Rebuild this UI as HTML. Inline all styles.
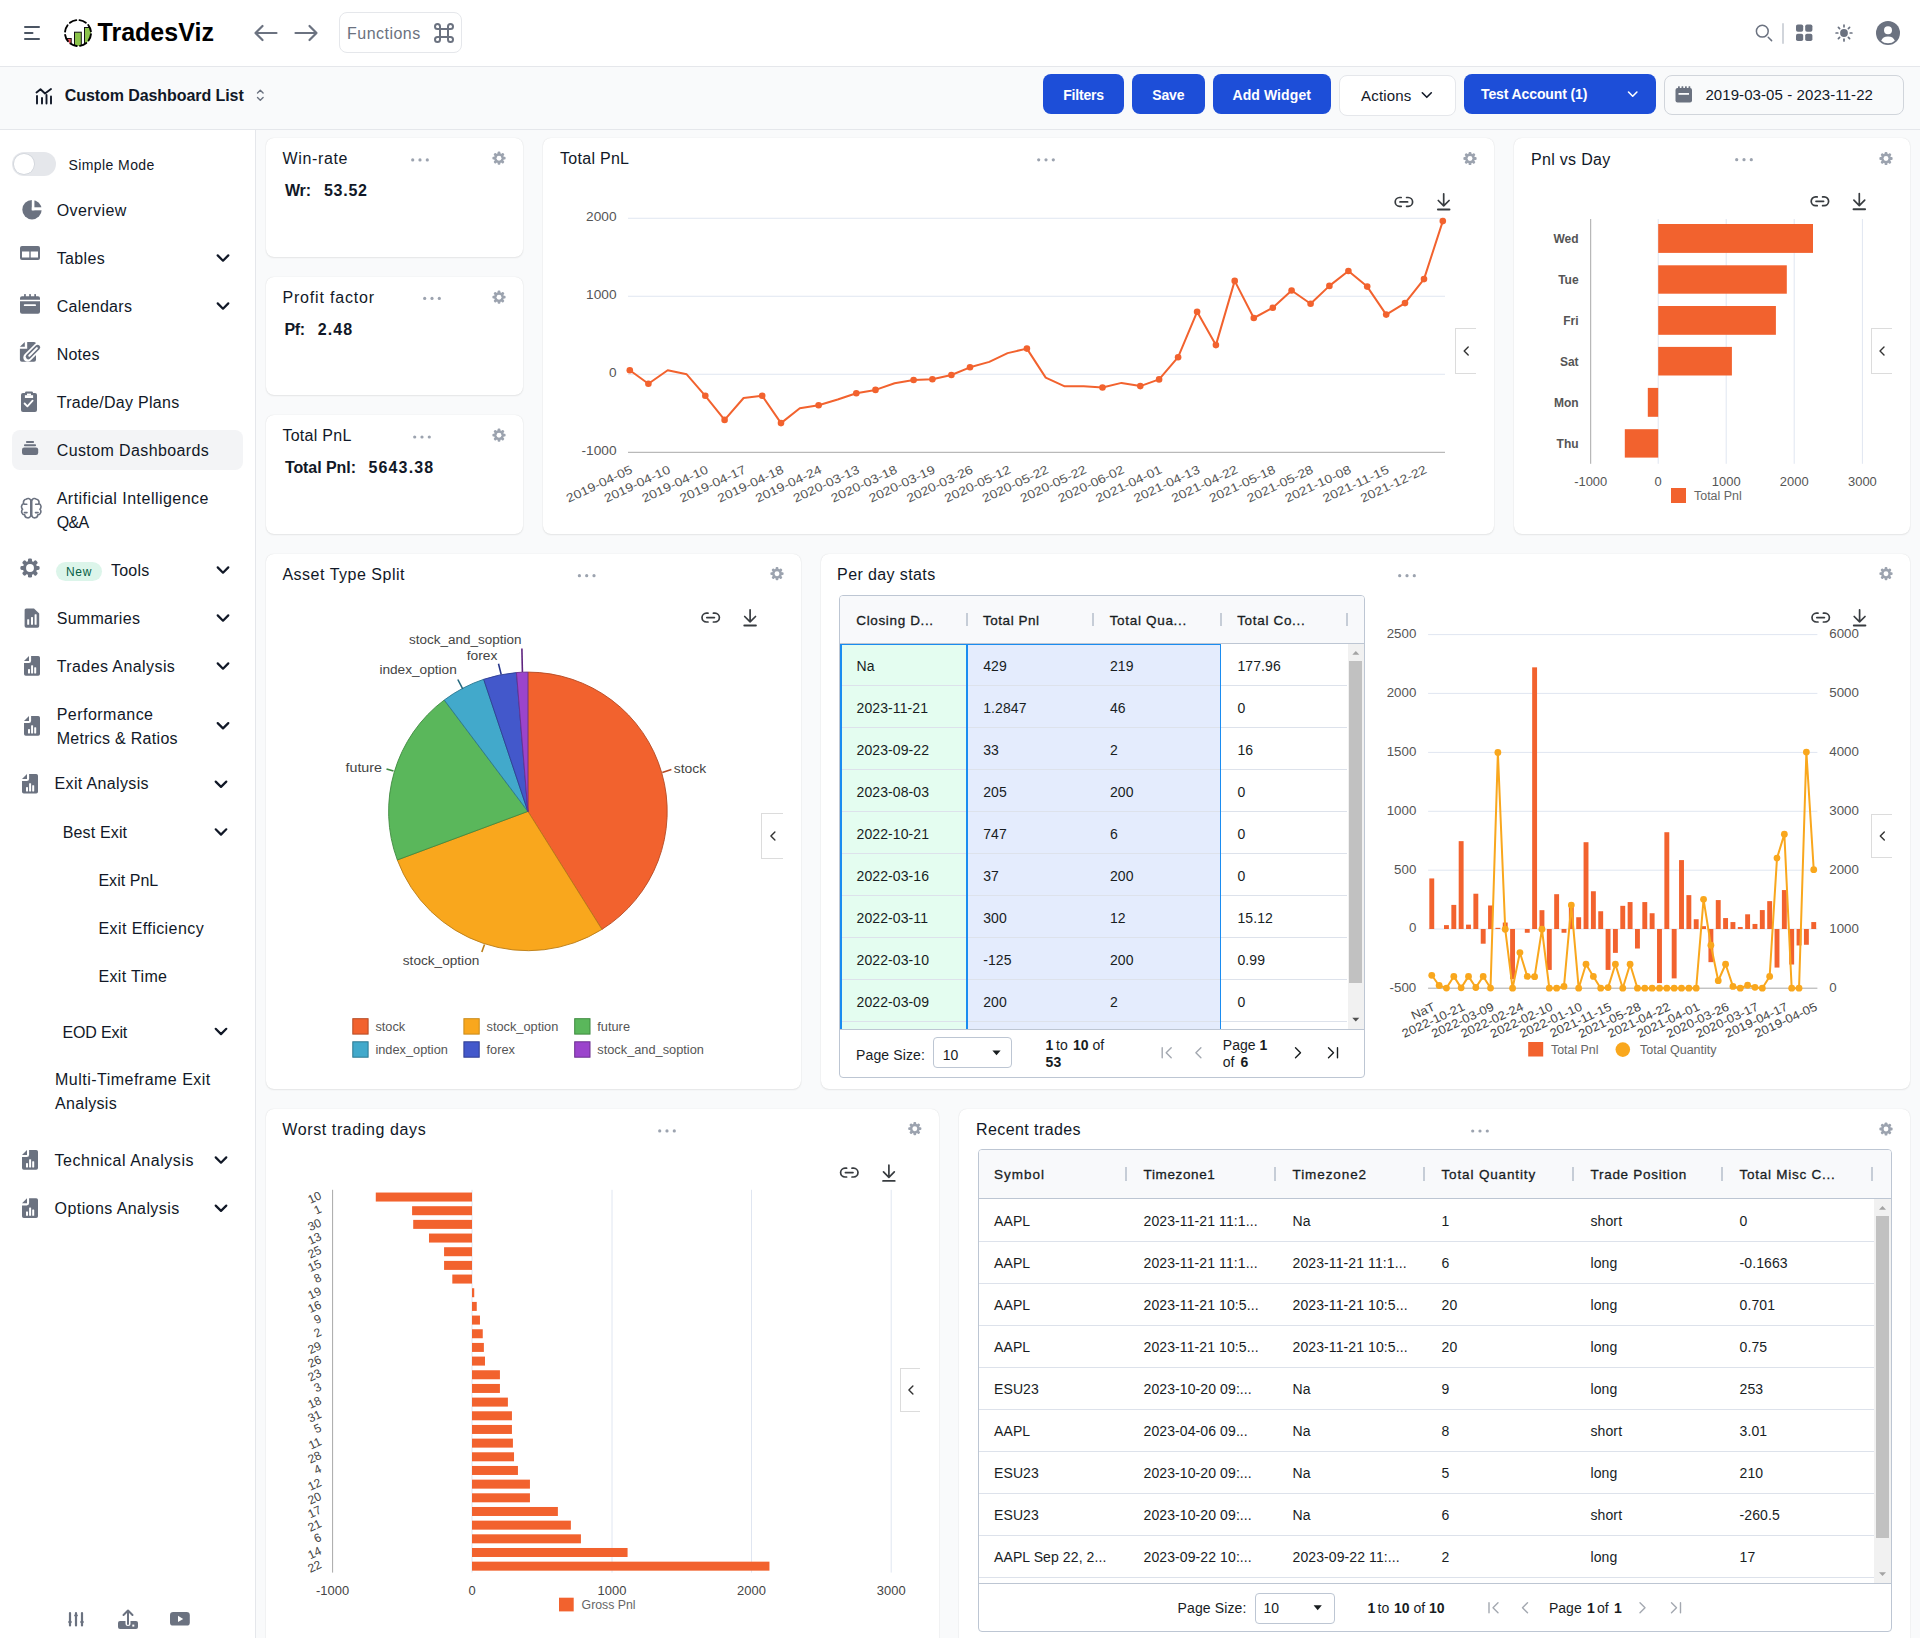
<!DOCTYPE html>
<html><head><meta charset="utf-8"><title>TradesViz - Custom Dashboard</title>
<style>
html,body{margin:0;padding:0;}
body{width:1920px;height:1638px;overflow:hidden;position:relative;background:#f9fafb;font-family:"Liberation Sans", sans-serif;}
svg text{font-family:"Liberation Sans", sans-serif;}
</style></head><body>
<div style="position:absolute;left:0px;top:0px;width:1920px;height:66px;background:#fff;"></div><div style="position:absolute;left:0px;top:66px;width:1920px;height:1px;background:#e5e7eb;"></div><div style="position:absolute;left:0px;top:67px;width:1920px;height:62px;background:#f9fafb;"></div><div style="position:absolute;left:0px;top:129px;width:1920px;height:1px;background:#e5e7eb;"></div><div style="position:absolute;left:97.50px;top:20.34px;font-size:25px;line-height:25px;font-weight:700;color:#000;white-space:nowrap;letter-spacing:0.014px;">TradesViz</div><div style="position:absolute;left:339px;top:12px;width:123px;height:41px;border:1px solid #e5e7eb;border-radius:8px;box-sizing:border-box;background:#fff;"></div><div style="position:absolute;left:347.00px;top:25.66px;font-size:16px;line-height:16px;font-weight:400;color:#6b7280;white-space:nowrap;letter-spacing:0.481px;">Functions</div><div style="position:absolute;left:1782.2px;top:23.3px;width:1.6px;height:21.2px;background:#d1d5db;border-radius:1px;"></div><div style="position:absolute;left:64.70px;top:87.66px;font-size:16px;line-height:16px;font-weight:700;color:#111827;white-space:nowrap;letter-spacing:-0.070px;">Custom Dashboard List</div><div style="position:absolute;left:1043px;top:74px;width:81px;height:40px;background:#1d4ed8;border-radius:8px;"></div><div style="position:absolute;left:1063.15px;top:87.95px;font-size:14px;line-height:14px;font-weight:700;color:#fff;white-space:nowrap;letter-spacing:-0.188px;">Filters</div><div style="position:absolute;left:1132px;top:74px;width:72.5px;height:40px;background:#1d4ed8;border-radius:8px;"></div><div style="position:absolute;left:1152.25px;top:87.95px;font-size:14px;line-height:14px;font-weight:700;color:#fff;white-space:nowrap;letter-spacing:-0.174px;">Save</div><div style="position:absolute;left:1213px;top:74px;width:117.5px;height:40px;background:#1d4ed8;border-radius:8px;"></div><div style="position:absolute;left:1232.50px;top:87.95px;font-size:14px;line-height:14px;font-weight:700;color:#fff;white-space:nowrap;letter-spacing:0.086px;">Add Widget</div><div style="position:absolute;left:1339px;top:74.5px;width:116.5px;height:41px;background:#fff;border:1px solid #e5e7eb;border-radius:8px;box-sizing:border-box;"></div><div style="position:absolute;left:1361.00px;top:87.60px;font-size:15px;line-height:15px;font-weight:400;color:#111827;white-space:nowrap;letter-spacing:0.187px;">Actions</div><div style="position:absolute;left:1464px;top:74px;width:192px;height:39.5px;background:#1d4ed8;border-radius:8px;"></div><div style="position:absolute;left:1481.00px;top:87.45px;font-size:14px;line-height:14px;font-weight:700;color:#fff;white-space:nowrap;letter-spacing:-0.114px;">Test Account (1)</div><div style="position:absolute;left:1664px;top:75px;width:240px;height:39.5px;background:#f9fafb;border:1px solid #d1d5db;border-radius:8px;box-sizing:border-box;"></div><div style="position:absolute;left:1705.40px;top:87.00px;font-size:15px;line-height:15px;font-weight:400;color:#111827;white-space:nowrap;letter-spacing:0.084px;">2019-03-05 - 2023-11-22</div><div style="position:absolute;left:0px;top:130px;width:255px;height:1508px;background:#fff;"></div><div style="position:absolute;left:255px;top:130px;width:1px;height:1508px;background:#e5e7eb;"></div><div style="position:absolute;left:12px;top:152px;width:44px;height:24px;background:#e5e7eb;border-radius:12px;"></div><div style="position:absolute;left:14.2px;top:154.2px;width:19.6px;height:19.6px;background:#fff;border-radius:50%;box-shadow:0 0 0 0.8px #d1d5db;"></div><div style="position:absolute;left:68.50px;top:158.05px;font-size:14px;line-height:14px;font-weight:400;color:#111827;white-space:nowrap;letter-spacing:0.413px;">Simple Mode</div><div style="position:absolute;left:56.70px;top:202.56px;font-size:16px;line-height:16px;font-weight:400;color:#111827;white-space:nowrap;letter-spacing:0.415px;">Overview</div><div style="position:absolute;left:56.70px;top:250.71px;font-size:16px;line-height:16px;font-weight:400;color:#111827;white-space:nowrap;letter-spacing:0.375px;">Tables</div><div style="position:absolute;left:56.70px;top:298.66px;font-size:16px;line-height:16px;font-weight:400;color:#111827;white-space:nowrap;letter-spacing:0.286px;">Calendars</div><div style="position:absolute;left:56.70px;top:346.66px;font-size:16px;line-height:16px;font-weight:400;color:#111827;white-space:nowrap;letter-spacing:0.241px;">Notes</div><div style="position:absolute;left:56.70px;top:394.66px;font-size:16px;line-height:16px;font-weight:400;color:#111827;white-space:nowrap;letter-spacing:0.282px;">Trade/Day Plans</div><div style="position:absolute;left:12px;top:430px;width:231px;height:40px;background:#f3f4f6;border-radius:8px;"></div><div style="position:absolute;left:56.70px;top:442.66px;font-size:16px;line-height:16px;font-weight:400;color:#111827;white-space:nowrap;letter-spacing:0.392px;">Custom Dashboards</div><div style="position:absolute;left:56.70px;top:490.56px;font-size:16px;line-height:16px;font-weight:400;color:#111827;white-space:nowrap;letter-spacing:0.470px;">Artificial Intelligence</div><div style="position:absolute;left:56.70px;top:514.76px;font-size:16px;line-height:16px;font-weight:400;color:#111827;white-space:nowrap;letter-spacing:-0.596px;">Q&amp;A</div><div style="position:absolute;left:56px;top:562px;width:46px;height:19px;background:#dcf5ea;border-radius:9.5px;"></div><div style="position:absolute;left:66.00px;top:566.34px;font-size:12px;line-height:12px;font-weight:400;color:#065f46;white-space:nowrap;letter-spacing:0.664px;">New</div><div style="position:absolute;left:110.90px;top:563.16px;font-size:16px;line-height:16px;font-weight:400;color:#111827;white-space:nowrap;letter-spacing:0.270px;">Tools</div><div style="position:absolute;left:56.70px;top:610.71px;font-size:16px;line-height:16px;font-weight:400;color:#111827;white-space:nowrap;letter-spacing:0.288px;">Summaries</div><div style="position:absolute;left:56.70px;top:658.86px;font-size:16px;line-height:16px;font-weight:400;color:#111827;white-space:nowrap;letter-spacing:0.417px;">Trades Analysis</div><div style="position:absolute;left:56.70px;top:706.96px;font-size:16px;line-height:16px;font-weight:400;color:#111827;white-space:nowrap;letter-spacing:0.473px;">Performance</div><div style="position:absolute;left:56.70px;top:730.76px;font-size:16px;line-height:16px;font-weight:400;color:#111827;white-space:nowrap;letter-spacing:0.296px;">Metrics &amp; Ratios</div><div style="position:absolute;left:54.50px;top:776.46px;font-size:16px;line-height:16px;font-weight:400;color:#111827;white-space:nowrap;letter-spacing:0.353px;">Exit Analysis</div><div style="position:absolute;left:62.70px;top:824.96px;font-size:16px;line-height:16px;font-weight:400;color:#111827;white-space:nowrap;letter-spacing:0.152px;">Best Exit</div><div style="position:absolute;left:98.40px;top:872.66px;font-size:16px;line-height:16px;font-weight:400;color:#111827;white-space:nowrap;letter-spacing:0.039px;">Exit PnL</div><div style="position:absolute;left:98.40px;top:920.76px;font-size:16px;line-height:16px;font-weight:400;color:#111827;white-space:nowrap;letter-spacing:0.427px;">Exit Efficiency</div><div style="position:absolute;left:98.40px;top:968.86px;font-size:16px;line-height:16px;font-weight:400;color:#111827;white-space:nowrap;letter-spacing:0.346px;">Exit Time</div><div style="position:absolute;left:62.40px;top:1024.66px;font-size:16px;line-height:16px;font-weight:400;color:#111827;white-space:nowrap;letter-spacing:-0.124px;">EOD Exit</div><div style="position:absolute;left:55.00px;top:1072.26px;font-size:16px;line-height:16px;font-weight:400;color:#111827;white-space:nowrap;letter-spacing:0.486px;">Multi-Timeframe Exit</div><div style="position:absolute;left:55.00px;top:1096.36px;font-size:16px;line-height:16px;font-weight:400;color:#111827;white-space:nowrap;letter-spacing:0.303px;">Analysis</div><div style="position:absolute;left:54.60px;top:1152.66px;font-size:16px;line-height:16px;font-weight:400;color:#111827;white-space:nowrap;letter-spacing:0.531px;">Technical Analysis</div><div style="position:absolute;left:54.60px;top:1200.96px;font-size:16px;line-height:16px;font-weight:400;color:#111827;white-space:nowrap;letter-spacing:0.420px;">Options Analysis</div><div style="position:absolute;left:266px;top:138px;width:257px;height:118.7px;background:#fff;border-radius:8px;box-shadow:0 0 1.2px rgba(0,0,0,0.13), 0 1px 2px rgba(0,0,0,0.07);"></div><div style="position:absolute;left:282.40px;top:151.16px;font-size:16px;line-height:16px;font-weight:400;color:#111827;white-space:nowrap;letter-spacing:0.668px;">Win-rate</div><div style="position:absolute;left:284.90px;top:182.86px;font-size:16px;line-height:16px;font-weight:700;color:#111827;white-space:nowrap;letter-spacing:-0.122px;">Wr:</div><div style="position:absolute;left:323.90px;top:182.86px;font-size:16px;line-height:16px;font-weight:700;color:#111827;white-space:nowrap;letter-spacing:0.752px;">53.52</div><div style="position:absolute;left:266px;top:276.7px;width:257px;height:118.6px;background:#fff;border-radius:8px;box-shadow:0 0 1.2px rgba(0,0,0,0.13), 0 1px 2px rgba(0,0,0,0.07);"></div><div style="position:absolute;left:282.40px;top:289.96px;font-size:16px;line-height:16px;font-weight:400;color:#111827;white-space:nowrap;letter-spacing:0.823px;">Profit factor</div><div style="position:absolute;left:284.40px;top:321.66px;font-size:16px;line-height:16px;font-weight:700;color:#111827;white-space:nowrap;letter-spacing:-0.276px;">Pf:</div><div style="position:absolute;left:317.80px;top:321.66px;font-size:16px;line-height:16px;font-weight:700;color:#111827;white-space:nowrap;letter-spacing:1.090px;">2.48</div><div style="position:absolute;left:266px;top:415.3px;width:257px;height:118.7px;background:#fff;border-radius:8px;box-shadow:0 0 1.2px rgba(0,0,0,0.13), 0 1px 2px rgba(0,0,0,0.07);"></div><div style="position:absolute;left:282.40px;top:427.96px;font-size:16px;line-height:16px;font-weight:400;color:#111827;white-space:nowrap;letter-spacing:0.288px;">Total PnL</div><div style="position:absolute;left:284.90px;top:460.16px;font-size:16px;line-height:16px;font-weight:700;color:#111827;white-space:nowrap;letter-spacing:-0.070px;">Total Pnl:</div><div style="position:absolute;left:368.50px;top:460.16px;font-size:16px;line-height:16px;font-weight:700;color:#111827;white-space:nowrap;letter-spacing:1.138px;">5643.38</div><div style="position:absolute;left:543px;top:138px;width:951px;height:396.1px;background:#fff;border-radius:8px;box-shadow:0 0 1.2px rgba(0,0,0,0.13), 0 1px 2px rgba(0,0,0,0.07);"></div><div style="position:absolute;left:560.00px;top:151.21px;font-size:16px;line-height:16px;font-weight:400;color:#111827;white-space:nowrap;letter-spacing:0.288px;">Total PnL</div><div style="position:absolute;left:1454.7px;top:328.2px;width:21.3px;height:45.5px;border:1px solid #dcdcdc;border-right:none;box-sizing:border-box;background:#fff;"></div><div style="position:absolute;left:1514px;top:138px;width:396px;height:396.1px;background:#fff;border-radius:8px;box-shadow:0 0 1.2px rgba(0,0,0,0.13), 0 1px 2px rgba(0,0,0,0.07);"></div><div style="position:absolute;left:1531.00px;top:151.66px;font-size:16px;line-height:16px;font-weight:400;color:#111827;white-space:nowrap;letter-spacing:0.303px;">Pnl vs Day</div><div style="position:absolute;left:1870.5px;top:328.3px;width:21.3px;height:45.5px;border:1px solid #dcdcdc;border-right:none;box-sizing:border-box;background:#fff;"></div><div style="position:absolute;left:266px;top:554px;width:535px;height:534.7px;background:#fff;border-radius:8px;box-shadow:0 0 1.2px rgba(0,0,0,0.13), 0 1px 2px rgba(0,0,0,0.07);"></div><div style="position:absolute;left:282.40px;top:567.26px;font-size:16px;line-height:16px;font-weight:400;color:#111827;white-space:nowrap;letter-spacing:0.511px;">Asset Type Split</div><div style="position:absolute;left:761.3000000000001px;top:813.1px;width:21.3px;height:46px;border:1px solid #dcdcdc;border-right:none;box-sizing:border-box;background:#fff;"></div><div style="position:absolute;left:821px;top:554px;width:1089px;height:534.7px;background:#fff;border-radius:8px;box-shadow:0 0 1.2px rgba(0,0,0,0.13), 0 1px 2px rgba(0,0,0,0.07);"></div><div style="position:absolute;left:837.10px;top:567.26px;font-size:16px;line-height:16px;font-weight:400;color:#111827;white-space:nowrap;letter-spacing:0.394px;">Per day stats</div><div style="position:absolute;left:1871.0px;top:813.8px;width:20.8px;height:44.5px;border:1px solid #dcdcdc;border-right:none;box-sizing:border-box;background:#fff;"></div><div style="position:absolute;left:266px;top:1109px;width:673px;height:536px;background:#fff;border-radius:8px;box-shadow:0 0 1.2px rgba(0,0,0,0.13), 0 1px 2px rgba(0,0,0,0.07);"></div><div style="position:absolute;left:282.30px;top:1121.86px;font-size:16px;line-height:16px;font-weight:400;color:#111827;white-space:nowrap;letter-spacing:0.606px;">Worst trading days</div><div style="position:absolute;left:899.6px;top:1367.7px;width:20.900000000000002px;height:44.3px;border:1px solid #dcdcdc;border-right:none;box-sizing:border-box;background:#fff;"></div><div style="position:absolute;left:959px;top:1109px;width:951px;height:536px;background:#fff;border-radius:8px;box-shadow:0 0 1.2px rgba(0,0,0,0.13), 0 1px 2px rgba(0,0,0,0.07);"></div><div style="position:absolute;left:976.00px;top:1121.96px;font-size:16px;line-height:16px;font-weight:400;color:#111827;white-space:nowrap;letter-spacing:0.415px;">Recent trades</div><div style="position:absolute;left:839.4px;top:594.5px;width:525.8000000000001px;height:483.4000000000001px;border:1px solid #bdc6d3;border-radius:4px;box-sizing:border-box;background:#fff;overflow:hidden;"></div><div style="position:absolute;left:840.4px;top:595.5px;width:523.8000000000001px;height:47.5px;background:#f8f9fb;border-radius:3px 3px 0 0;"></div><div style="position:absolute;left:839.4px;top:643px;width:525.8000000000001px;height:1px;background:#bdc6d3;"></div><div style="position:absolute;left:856.30px;top:614.07px;font-size:13.5px;line-height:13.5px;font-weight:400;color:#181d1f;white-space:nowrap;letter-spacing:0.636px;-webkit-text-stroke:0.3px #181d1f;">Closing D...</div><div style="position:absolute;left:965.5px;top:612.6px;width:2px;height:13.5px;background:#c6cdd7;"></div><div style="position:absolute;left:983.00px;top:614.07px;font-size:13.5px;line-height:13.5px;font-weight:400;color:#181d1f;white-space:nowrap;letter-spacing:0.536px;-webkit-text-stroke:0.3px #181d1f;">Total Pnl</div><div style="position:absolute;left:1092.2px;top:612.6px;width:2px;height:13.5px;background:#c6cdd7;"></div><div style="position:absolute;left:1109.70px;top:614.07px;font-size:13.5px;line-height:13.5px;font-weight:400;color:#181d1f;white-space:nowrap;letter-spacing:0.680px;-webkit-text-stroke:0.3px #181d1f;">Total Qua...</div><div style="position:absolute;left:1219.7px;top:612.6px;width:2px;height:13.5px;background:#c6cdd7;"></div><div style="position:absolute;left:1237.20px;top:614.07px;font-size:13.5px;line-height:13.5px;font-weight:400;color:#181d1f;white-space:nowrap;letter-spacing:0.675px;-webkit-text-stroke:0.3px #181d1f;">Total Co...</div><div style="position:absolute;left:1345.7px;top:612.6px;width:2px;height:13.5px;background:#c6cdd7;"></div><div style="position:absolute;left:840.3px;top:644px;width:126.2px;height:384.5999999999999px;background:#e4fdf0;"></div><div style="position:absolute;left:967px;top:644px;width:254px;height:384.5999999999999px;background:#e4ecfd;"></div><div style="position:absolute;left:840.3px;top:684.8px;width:506.9000000000001px;height:1px;background:#dde2eb;"></div><div style="position:absolute;left:840.3px;top:726.8px;width:506.9000000000001px;height:1px;background:#dde2eb;"></div><div style="position:absolute;left:840.3px;top:768.8px;width:506.9000000000001px;height:1px;background:#dde2eb;"></div><div style="position:absolute;left:840.3px;top:810.8px;width:506.9000000000001px;height:1px;background:#dde2eb;"></div><div style="position:absolute;left:840.3px;top:852.8px;width:506.9000000000001px;height:1px;background:#dde2eb;"></div><div style="position:absolute;left:840.3px;top:894.8px;width:506.9000000000001px;height:1px;background:#dde2eb;"></div><div style="position:absolute;left:840.3px;top:936.8px;width:506.9000000000001px;height:1px;background:#dde2eb;"></div><div style="position:absolute;left:840.3px;top:978.8px;width:506.9000000000001px;height:1px;background:#dde2eb;"></div><div style="position:absolute;left:840.3px;top:1020.8px;width:506.9000000000001px;height:1px;background:#dde2eb;"></div><div style="position:absolute;left:856.50px;top:658.75px;font-size:14px;line-height:14px;font-weight:400;color:#181d1f;white-space:nowrap;letter-spacing:0.100px;">Na</div><div style="position:absolute;left:983.20px;top:658.75px;font-size:14px;line-height:14px;font-weight:400;color:#181d1f;white-space:nowrap;letter-spacing:0.100px;">429</div><div style="position:absolute;left:1109.90px;top:658.75px;font-size:14px;line-height:14px;font-weight:400;color:#181d1f;white-space:nowrap;letter-spacing:0.100px;">219</div><div style="position:absolute;left:1237.40px;top:658.75px;font-size:14px;line-height:14px;font-weight:400;color:#181d1f;white-space:nowrap;letter-spacing:0.100px;">177.96</div><div style="position:absolute;left:856.50px;top:700.75px;font-size:14px;line-height:14px;font-weight:400;color:#181d1f;white-space:nowrap;letter-spacing:0.100px;">2023-11-21</div><div style="position:absolute;left:983.20px;top:700.75px;font-size:14px;line-height:14px;font-weight:400;color:#181d1f;white-space:nowrap;letter-spacing:0.100px;">1.2847</div><div style="position:absolute;left:1109.90px;top:700.75px;font-size:14px;line-height:14px;font-weight:400;color:#181d1f;white-space:nowrap;letter-spacing:0.100px;">46</div><div style="position:absolute;left:1237.40px;top:700.75px;font-size:14px;line-height:14px;font-weight:400;color:#181d1f;white-space:nowrap;letter-spacing:0.100px;">0</div><div style="position:absolute;left:856.50px;top:742.75px;font-size:14px;line-height:14px;font-weight:400;color:#181d1f;white-space:nowrap;letter-spacing:0.100px;">2023-09-22</div><div style="position:absolute;left:983.20px;top:742.75px;font-size:14px;line-height:14px;font-weight:400;color:#181d1f;white-space:nowrap;letter-spacing:0.100px;">33</div><div style="position:absolute;left:1109.90px;top:742.75px;font-size:14px;line-height:14px;font-weight:400;color:#181d1f;white-space:nowrap;letter-spacing:0.100px;">2</div><div style="position:absolute;left:1237.40px;top:742.75px;font-size:14px;line-height:14px;font-weight:400;color:#181d1f;white-space:nowrap;letter-spacing:0.100px;">16</div><div style="position:absolute;left:856.50px;top:784.75px;font-size:14px;line-height:14px;font-weight:400;color:#181d1f;white-space:nowrap;letter-spacing:0.100px;">2023-08-03</div><div style="position:absolute;left:983.20px;top:784.75px;font-size:14px;line-height:14px;font-weight:400;color:#181d1f;white-space:nowrap;letter-spacing:0.100px;">205</div><div style="position:absolute;left:1109.90px;top:784.75px;font-size:14px;line-height:14px;font-weight:400;color:#181d1f;white-space:nowrap;letter-spacing:0.100px;">200</div><div style="position:absolute;left:1237.40px;top:784.75px;font-size:14px;line-height:14px;font-weight:400;color:#181d1f;white-space:nowrap;letter-spacing:0.100px;">0</div><div style="position:absolute;left:856.50px;top:826.75px;font-size:14px;line-height:14px;font-weight:400;color:#181d1f;white-space:nowrap;letter-spacing:0.100px;">2022-10-21</div><div style="position:absolute;left:983.20px;top:826.75px;font-size:14px;line-height:14px;font-weight:400;color:#181d1f;white-space:nowrap;letter-spacing:0.100px;">747</div><div style="position:absolute;left:1109.90px;top:826.75px;font-size:14px;line-height:14px;font-weight:400;color:#181d1f;white-space:nowrap;letter-spacing:0.100px;">6</div><div style="position:absolute;left:1237.40px;top:826.75px;font-size:14px;line-height:14px;font-weight:400;color:#181d1f;white-space:nowrap;letter-spacing:0.100px;">0</div><div style="position:absolute;left:856.50px;top:868.75px;font-size:14px;line-height:14px;font-weight:400;color:#181d1f;white-space:nowrap;letter-spacing:0.100px;">2022-03-16</div><div style="position:absolute;left:983.20px;top:868.75px;font-size:14px;line-height:14px;font-weight:400;color:#181d1f;white-space:nowrap;letter-spacing:0.100px;">37</div><div style="position:absolute;left:1109.90px;top:868.75px;font-size:14px;line-height:14px;font-weight:400;color:#181d1f;white-space:nowrap;letter-spacing:0.100px;">200</div><div style="position:absolute;left:1237.40px;top:868.75px;font-size:14px;line-height:14px;font-weight:400;color:#181d1f;white-space:nowrap;letter-spacing:0.100px;">0</div><div style="position:absolute;left:856.50px;top:910.75px;font-size:14px;line-height:14px;font-weight:400;color:#181d1f;white-space:nowrap;letter-spacing:0.100px;">2022-03-11</div><div style="position:absolute;left:983.20px;top:910.75px;font-size:14px;line-height:14px;font-weight:400;color:#181d1f;white-space:nowrap;letter-spacing:0.100px;">300</div><div style="position:absolute;left:1109.90px;top:910.75px;font-size:14px;line-height:14px;font-weight:400;color:#181d1f;white-space:nowrap;letter-spacing:0.100px;">12</div><div style="position:absolute;left:1237.40px;top:910.75px;font-size:14px;line-height:14px;font-weight:400;color:#181d1f;white-space:nowrap;letter-spacing:0.100px;">15.12</div><div style="position:absolute;left:856.50px;top:952.75px;font-size:14px;line-height:14px;font-weight:400;color:#181d1f;white-space:nowrap;letter-spacing:0.100px;">2022-03-10</div><div style="position:absolute;left:983.20px;top:952.75px;font-size:14px;line-height:14px;font-weight:400;color:#181d1f;white-space:nowrap;letter-spacing:0.100px;">-125</div><div style="position:absolute;left:1109.90px;top:952.75px;font-size:14px;line-height:14px;font-weight:400;color:#181d1f;white-space:nowrap;letter-spacing:0.100px;">200</div><div style="position:absolute;left:1237.40px;top:952.75px;font-size:14px;line-height:14px;font-weight:400;color:#181d1f;white-space:nowrap;letter-spacing:0.100px;">0.99</div><div style="position:absolute;left:856.50px;top:994.75px;font-size:14px;line-height:14px;font-weight:400;color:#181d1f;white-space:nowrap;letter-spacing:0.100px;">2022-03-09</div><div style="position:absolute;left:983.20px;top:994.75px;font-size:14px;line-height:14px;font-weight:400;color:#181d1f;white-space:nowrap;letter-spacing:0.100px;">200</div><div style="position:absolute;left:1109.90px;top:994.75px;font-size:14px;line-height:14px;font-weight:400;color:#181d1f;white-space:nowrap;letter-spacing:0.100px;">2</div><div style="position:absolute;left:1237.40px;top:994.75px;font-size:14px;line-height:14px;font-weight:400;color:#181d1f;white-space:nowrap;letter-spacing:0.100px;">0</div><div style="position:absolute;left:840.3px;top:644px;width:126.90000000000009px;height:1.3px;background:#1a8cf0;"></div><div style="position:absolute;left:840.3px;top:644px;width:1.4px;height:384.5999999999999px;background:#1a8cf0;"></div><div style="position:absolute;left:965.8000000000001px;top:644px;width:1.4px;height:384.5999999999999px;background:#1a8cf0;"></div><div style="position:absolute;left:966.8px;top:644px;width:254.20000000000005px;height:1.3px;background:#1a8cf0;"></div><div style="position:absolute;left:966.8px;top:644px;width:1.4px;height:384.5999999999999px;background:#1a8cf0;"></div><div style="position:absolute;left:1219.6px;top:644px;width:1.4px;height:384.5999999999999px;background:#1a8cf0;"></div><div style="position:absolute;left:1347.6px;top:644px;width:16.8px;height:384.5999999999999px;background:#f1f1f1;"></div><div style="position:absolute;left:1349.2px;top:661.1px;width:12.9px;height:321.8px;background:#c1c1c1;"></div><div style="position:absolute;left:839.4px;top:1028.6px;width:525.8000000000001px;height:1px;background:#bdc6d3;"></div><div style="position:absolute;left:856.00px;top:1047.65px;font-size:14px;line-height:14px;font-weight:400;color:#181d1f;white-space:nowrap;letter-spacing:0.129px;">Page Size:</div><div style="position:absolute;left:933.3px;top:1037.4px;width:79.2px;height:31px;border:1px solid #bdc6d3;border-radius:4px;box-sizing:border-box;background:#fff;"></div><div style="position:absolute;left:942.70px;top:1047.65px;font-size:14px;line-height:14px;font-weight:400;color:#181d1f;white-space:nowrap;">10</div><div style="position:absolute;left:1045.60px;top:1037.95px;font-size:14px;line-height:14px;font-weight:700;color:#181d1f;white-space:nowrap;">1</div><div style="position:absolute;left:1056.00px;top:1037.95px;font-size:14px;line-height:14px;font-weight:400;color:#181d1f;white-space:nowrap;">to</div><div style="position:absolute;left:1073.00px;top:1037.95px;font-size:14px;line-height:14px;font-weight:700;color:#181d1f;white-space:nowrap;">10</div><div style="position:absolute;left:1092.50px;top:1037.95px;font-size:14px;line-height:14px;font-weight:400;color:#181d1f;white-space:nowrap;">of</div><div style="position:absolute;left:1045.60px;top:1055.05px;font-size:14px;line-height:14px;font-weight:700;color:#181d1f;white-space:nowrap;">53</div><div style="position:absolute;left:1222.80px;top:1037.95px;font-size:14px;line-height:14px;font-weight:400;color:#181d1f;white-space:nowrap;">Page</div><div style="position:absolute;left:1259.50px;top:1037.95px;font-size:14px;line-height:14px;font-weight:700;color:#181d1f;white-space:nowrap;">1</div><div style="position:absolute;left:1222.80px;top:1055.05px;font-size:14px;line-height:14px;font-weight:400;color:#181d1f;white-space:nowrap;">of</div><div style="position:absolute;left:1240.50px;top:1055.05px;font-size:14px;line-height:14px;font-weight:700;color:#181d1f;white-space:nowrap;">6</div><div style="position:absolute;left:977.5px;top:1149px;width:914.5px;height:483.20000000000005px;border:1px solid #bdc6d3;border-radius:4px;box-sizing:border-box;background:#fff;overflow:hidden;"></div><div style="position:absolute;left:978.5px;top:1150px;width:912.5px;height:48px;background:#f8f9fb;border-radius:3px 3px 0 0;"></div><div style="position:absolute;left:977.5px;top:1198px;width:914.5px;height:1px;background:#bdc6d3;"></div><div style="position:absolute;left:994.00px;top:1168.17px;font-size:13.5px;line-height:13.5px;font-weight:400;color:#181d1f;white-space:nowrap;letter-spacing:0.998px;-webkit-text-stroke:0.3px #181d1f;">Symbol</div><div style="position:absolute;left:1124.5px;top:1167.3px;width:2px;height:13.5px;background:#c6cdd7;"></div><div style="position:absolute;left:1143.50px;top:1168.17px;font-size:13.5px;line-height:13.5px;font-weight:400;color:#181d1f;white-space:nowrap;letter-spacing:0.636px;-webkit-text-stroke:0.3px #181d1f;">Timezone1</div><div style="position:absolute;left:1274px;top:1167.3px;width:2px;height:13.5px;background:#c6cdd7;"></div><div style="position:absolute;left:1292.50px;top:1168.17px;font-size:13.5px;line-height:13.5px;font-weight:400;color:#181d1f;white-space:nowrap;letter-spacing:0.913px;-webkit-text-stroke:0.3px #181d1f;">Timezone2</div><div style="position:absolute;left:1423px;top:1167.3px;width:2px;height:13.5px;background:#c6cdd7;"></div><div style="position:absolute;left:1441.50px;top:1168.17px;font-size:13.5px;line-height:13.5px;font-weight:400;color:#181d1f;white-space:nowrap;letter-spacing:0.854px;-webkit-text-stroke:0.3px #181d1f;">Total Quantity</div><div style="position:absolute;left:1572px;top:1167.3px;width:2px;height:13.5px;background:#c6cdd7;"></div><div style="position:absolute;left:1590.50px;top:1168.17px;font-size:13.5px;line-height:13.5px;font-weight:400;color:#181d1f;white-space:nowrap;letter-spacing:0.711px;-webkit-text-stroke:0.3px #181d1f;">Trade Position</div><div style="position:absolute;left:1721px;top:1167.3px;width:2px;height:13.5px;background:#c6cdd7;"></div><div style="position:absolute;left:1739.50px;top:1168.17px;font-size:13.5px;line-height:13.5px;font-weight:400;color:#181d1f;white-space:nowrap;letter-spacing:0.749px;-webkit-text-stroke:0.3px #181d1f;">Total Misc C...</div><div style="position:absolute;left:1870.5px;top:1167.3px;width:2px;height:13.5px;background:#c6cdd7;"></div><div style="position:absolute;left:978.5px;top:1240.5px;width:895.5px;height:1px;background:#dde2eb;"></div><div style="position:absolute;left:978.5px;top:1282.5px;width:895.5px;height:1px;background:#dde2eb;"></div><div style="position:absolute;left:978.5px;top:1324.5px;width:895.5px;height:1px;background:#dde2eb;"></div><div style="position:absolute;left:978.5px;top:1366.5px;width:895.5px;height:1px;background:#dde2eb;"></div><div style="position:absolute;left:978.5px;top:1408.5px;width:895.5px;height:1px;background:#dde2eb;"></div><div style="position:absolute;left:978.5px;top:1450.5px;width:895.5px;height:1px;background:#dde2eb;"></div><div style="position:absolute;left:978.5px;top:1492.5px;width:895.5px;height:1px;background:#dde2eb;"></div><div style="position:absolute;left:978.5px;top:1534.5px;width:895.5px;height:1px;background:#dde2eb;"></div><div style="position:absolute;left:978.5px;top:1576.5px;width:895.5px;height:1px;background:#dde2eb;"></div><div style="position:absolute;left:994.00px;top:1213.75px;font-size:14px;line-height:14px;font-weight:400;color:#181d1f;white-space:nowrap;letter-spacing:0.100px;">AAPL</div><div style="position:absolute;left:1143.50px;top:1213.75px;font-size:14px;line-height:14px;font-weight:400;color:#181d1f;white-space:nowrap;letter-spacing:0.100px;">2023-11-21 11:1...</div><div style="position:absolute;left:1292.50px;top:1213.75px;font-size:14px;line-height:14px;font-weight:400;color:#181d1f;white-space:nowrap;letter-spacing:0.100px;">Na</div><div style="position:absolute;left:1441.50px;top:1213.75px;font-size:14px;line-height:14px;font-weight:400;color:#181d1f;white-space:nowrap;letter-spacing:0.100px;">1</div><div style="position:absolute;left:1590.50px;top:1213.75px;font-size:14px;line-height:14px;font-weight:400;color:#181d1f;white-space:nowrap;letter-spacing:0.100px;">short</div><div style="position:absolute;left:1739.50px;top:1213.75px;font-size:14px;line-height:14px;font-weight:400;color:#181d1f;white-space:nowrap;letter-spacing:0.100px;">0</div><div style="position:absolute;left:994.00px;top:1255.75px;font-size:14px;line-height:14px;font-weight:400;color:#181d1f;white-space:nowrap;letter-spacing:0.100px;">AAPL</div><div style="position:absolute;left:1143.50px;top:1255.75px;font-size:14px;line-height:14px;font-weight:400;color:#181d1f;white-space:nowrap;letter-spacing:0.100px;">2023-11-21 11:1...</div><div style="position:absolute;left:1292.50px;top:1255.75px;font-size:14px;line-height:14px;font-weight:400;color:#181d1f;white-space:nowrap;letter-spacing:0.100px;">2023-11-21 11:1...</div><div style="position:absolute;left:1441.50px;top:1255.75px;font-size:14px;line-height:14px;font-weight:400;color:#181d1f;white-space:nowrap;letter-spacing:0.100px;">6</div><div style="position:absolute;left:1590.50px;top:1255.75px;font-size:14px;line-height:14px;font-weight:400;color:#181d1f;white-space:nowrap;letter-spacing:0.100px;">long</div><div style="position:absolute;left:1739.50px;top:1255.75px;font-size:14px;line-height:14px;font-weight:400;color:#181d1f;white-space:nowrap;letter-spacing:0.100px;">-0.1663</div><div style="position:absolute;left:994.00px;top:1297.75px;font-size:14px;line-height:14px;font-weight:400;color:#181d1f;white-space:nowrap;letter-spacing:0.100px;">AAPL</div><div style="position:absolute;left:1143.50px;top:1297.75px;font-size:14px;line-height:14px;font-weight:400;color:#181d1f;white-space:nowrap;letter-spacing:0.100px;">2023-11-21 10:5...</div><div style="position:absolute;left:1292.50px;top:1297.75px;font-size:14px;line-height:14px;font-weight:400;color:#181d1f;white-space:nowrap;letter-spacing:0.100px;">2023-11-21 10:5...</div><div style="position:absolute;left:1441.50px;top:1297.75px;font-size:14px;line-height:14px;font-weight:400;color:#181d1f;white-space:nowrap;letter-spacing:0.100px;">20</div><div style="position:absolute;left:1590.50px;top:1297.75px;font-size:14px;line-height:14px;font-weight:400;color:#181d1f;white-space:nowrap;letter-spacing:0.100px;">long</div><div style="position:absolute;left:1739.50px;top:1297.75px;font-size:14px;line-height:14px;font-weight:400;color:#181d1f;white-space:nowrap;letter-spacing:0.100px;">0.701</div><div style="position:absolute;left:994.00px;top:1339.75px;font-size:14px;line-height:14px;font-weight:400;color:#181d1f;white-space:nowrap;letter-spacing:0.100px;">AAPL</div><div style="position:absolute;left:1143.50px;top:1339.75px;font-size:14px;line-height:14px;font-weight:400;color:#181d1f;white-space:nowrap;letter-spacing:0.100px;">2023-11-21 10:5...</div><div style="position:absolute;left:1292.50px;top:1339.75px;font-size:14px;line-height:14px;font-weight:400;color:#181d1f;white-space:nowrap;letter-spacing:0.100px;">2023-11-21 10:5...</div><div style="position:absolute;left:1441.50px;top:1339.75px;font-size:14px;line-height:14px;font-weight:400;color:#181d1f;white-space:nowrap;letter-spacing:0.100px;">20</div><div style="position:absolute;left:1590.50px;top:1339.75px;font-size:14px;line-height:14px;font-weight:400;color:#181d1f;white-space:nowrap;letter-spacing:0.100px;">long</div><div style="position:absolute;left:1739.50px;top:1339.75px;font-size:14px;line-height:14px;font-weight:400;color:#181d1f;white-space:nowrap;letter-spacing:0.100px;">0.75</div><div style="position:absolute;left:994.00px;top:1381.75px;font-size:14px;line-height:14px;font-weight:400;color:#181d1f;white-space:nowrap;letter-spacing:0.100px;">ESU23</div><div style="position:absolute;left:1143.50px;top:1381.75px;font-size:14px;line-height:14px;font-weight:400;color:#181d1f;white-space:nowrap;letter-spacing:0.100px;">2023-10-20 09:...</div><div style="position:absolute;left:1292.50px;top:1381.75px;font-size:14px;line-height:14px;font-weight:400;color:#181d1f;white-space:nowrap;letter-spacing:0.100px;">Na</div><div style="position:absolute;left:1441.50px;top:1381.75px;font-size:14px;line-height:14px;font-weight:400;color:#181d1f;white-space:nowrap;letter-spacing:0.100px;">9</div><div style="position:absolute;left:1590.50px;top:1381.75px;font-size:14px;line-height:14px;font-weight:400;color:#181d1f;white-space:nowrap;letter-spacing:0.100px;">long</div><div style="position:absolute;left:1739.50px;top:1381.75px;font-size:14px;line-height:14px;font-weight:400;color:#181d1f;white-space:nowrap;letter-spacing:0.100px;">253</div><div style="position:absolute;left:994.00px;top:1423.75px;font-size:14px;line-height:14px;font-weight:400;color:#181d1f;white-space:nowrap;letter-spacing:0.100px;">AAPL</div><div style="position:absolute;left:1143.50px;top:1423.75px;font-size:14px;line-height:14px;font-weight:400;color:#181d1f;white-space:nowrap;letter-spacing:0.100px;">2023-04-06 09...</div><div style="position:absolute;left:1292.50px;top:1423.75px;font-size:14px;line-height:14px;font-weight:400;color:#181d1f;white-space:nowrap;letter-spacing:0.100px;">Na</div><div style="position:absolute;left:1441.50px;top:1423.75px;font-size:14px;line-height:14px;font-weight:400;color:#181d1f;white-space:nowrap;letter-spacing:0.100px;">8</div><div style="position:absolute;left:1590.50px;top:1423.75px;font-size:14px;line-height:14px;font-weight:400;color:#181d1f;white-space:nowrap;letter-spacing:0.100px;">short</div><div style="position:absolute;left:1739.50px;top:1423.75px;font-size:14px;line-height:14px;font-weight:400;color:#181d1f;white-space:nowrap;letter-spacing:0.100px;">3.01</div><div style="position:absolute;left:994.00px;top:1465.75px;font-size:14px;line-height:14px;font-weight:400;color:#181d1f;white-space:nowrap;letter-spacing:0.100px;">ESU23</div><div style="position:absolute;left:1143.50px;top:1465.75px;font-size:14px;line-height:14px;font-weight:400;color:#181d1f;white-space:nowrap;letter-spacing:0.100px;">2023-10-20 09:...</div><div style="position:absolute;left:1292.50px;top:1465.75px;font-size:14px;line-height:14px;font-weight:400;color:#181d1f;white-space:nowrap;letter-spacing:0.100px;">Na</div><div style="position:absolute;left:1441.50px;top:1465.75px;font-size:14px;line-height:14px;font-weight:400;color:#181d1f;white-space:nowrap;letter-spacing:0.100px;">5</div><div style="position:absolute;left:1590.50px;top:1465.75px;font-size:14px;line-height:14px;font-weight:400;color:#181d1f;white-space:nowrap;letter-spacing:0.100px;">long</div><div style="position:absolute;left:1739.50px;top:1465.75px;font-size:14px;line-height:14px;font-weight:400;color:#181d1f;white-space:nowrap;letter-spacing:0.100px;">210</div><div style="position:absolute;left:994.00px;top:1507.75px;font-size:14px;line-height:14px;font-weight:400;color:#181d1f;white-space:nowrap;letter-spacing:0.100px;">ESU23</div><div style="position:absolute;left:1143.50px;top:1507.75px;font-size:14px;line-height:14px;font-weight:400;color:#181d1f;white-space:nowrap;letter-spacing:0.100px;">2023-10-20 09:...</div><div style="position:absolute;left:1292.50px;top:1507.75px;font-size:14px;line-height:14px;font-weight:400;color:#181d1f;white-space:nowrap;letter-spacing:0.100px;">Na</div><div style="position:absolute;left:1441.50px;top:1507.75px;font-size:14px;line-height:14px;font-weight:400;color:#181d1f;white-space:nowrap;letter-spacing:0.100px;">6</div><div style="position:absolute;left:1590.50px;top:1507.75px;font-size:14px;line-height:14px;font-weight:400;color:#181d1f;white-space:nowrap;letter-spacing:0.100px;">short</div><div style="position:absolute;left:1739.50px;top:1507.75px;font-size:14px;line-height:14px;font-weight:400;color:#181d1f;white-space:nowrap;letter-spacing:0.100px;">-260.5</div><div style="position:absolute;left:994.00px;top:1549.75px;font-size:14px;line-height:14px;font-weight:400;color:#181d1f;white-space:nowrap;letter-spacing:0.100px;">AAPL Sep 22, 2...</div><div style="position:absolute;left:1143.50px;top:1549.75px;font-size:14px;line-height:14px;font-weight:400;color:#181d1f;white-space:nowrap;letter-spacing:0.100px;">2023-09-22 10:...</div><div style="position:absolute;left:1292.50px;top:1549.75px;font-size:14px;line-height:14px;font-weight:400;color:#181d1f;white-space:nowrap;letter-spacing:0.100px;">2023-09-22 11:...</div><div style="position:absolute;left:1441.50px;top:1549.75px;font-size:14px;line-height:14px;font-weight:400;color:#181d1f;white-space:nowrap;letter-spacing:0.100px;">2</div><div style="position:absolute;left:1590.50px;top:1549.75px;font-size:14px;line-height:14px;font-weight:400;color:#181d1f;white-space:nowrap;letter-spacing:0.100px;">long</div><div style="position:absolute;left:1739.50px;top:1549.75px;font-size:14px;line-height:14px;font-weight:400;color:#181d1f;white-space:nowrap;letter-spacing:0.100px;">17</div><div style="position:absolute;left:1874px;top:1199px;width:17px;height:384px;background:#f1f1f1;"></div><div style="position:absolute;left:1876.1px;top:1216px;width:12.8px;height:321.5px;background:#c1c1c1;"></div><div style="position:absolute;left:977.5px;top:1583.3px;width:914.5px;height:1px;background:#bdc6d3;"></div><div style="position:absolute;left:1177.50px;top:1601.15px;font-size:14px;line-height:14px;font-weight:400;color:#181d1f;white-space:nowrap;letter-spacing:0.129px;">Page Size:</div><div style="position:absolute;left:1255px;top:1592.5px;width:79.5px;height:31px;border:1px solid #bdc6d3;border-radius:4px;box-sizing:border-box;background:#fff;"></div><div style="position:absolute;left:1263.50px;top:1601.15px;font-size:14px;line-height:14px;font-weight:400;color:#181d1f;white-space:nowrap;">10</div><div style="position:absolute;left:1367.50px;top:1601.15px;font-size:14px;line-height:14px;font-weight:700;color:#181d1f;white-space:nowrap;">1</div><div style="position:absolute;left:1377.50px;top:1601.15px;font-size:14px;line-height:14px;font-weight:400;color:#181d1f;white-space:nowrap;">to</div><div style="position:absolute;left:1394.00px;top:1601.15px;font-size:14px;line-height:14px;font-weight:700;color:#181d1f;white-space:nowrap;">10</div><div style="position:absolute;left:1413.50px;top:1601.15px;font-size:14px;line-height:14px;font-weight:400;color:#181d1f;white-space:nowrap;">of</div><div style="position:absolute;left:1429.00px;top:1601.15px;font-size:14px;line-height:14px;font-weight:700;color:#181d1f;white-space:nowrap;">10</div><div style="position:absolute;left:1549.00px;top:1601.15px;font-size:14px;line-height:14px;font-weight:400;color:#181d1f;white-space:nowrap;">Page</div><div style="position:absolute;left:1587.00px;top:1601.15px;font-size:14px;line-height:14px;font-weight:700;color:#181d1f;white-space:nowrap;">1</div><div style="position:absolute;left:1597.00px;top:1601.15px;font-size:14px;line-height:14px;font-weight:400;color:#181d1f;white-space:nowrap;">of</div><div style="position:absolute;left:1614.00px;top:1601.15px;font-size:14px;line-height:14px;font-weight:700;color:#181d1f;white-space:nowrap;">1</div>
<svg width="1920" height="1638" viewBox="0 0 1920 1638" style="position:absolute;left:0;top:0;overflow:visible">
<g stroke="#4b5563" stroke-width="2" stroke-linecap="round"><line x1="25" y1="27" x2="39" y2="27"/><line x1="25" y1="33" x2="32.5" y2="33"/><line x1="25" y1="39" x2="39" y2="39"/></g><defs><clipPath id="lc"><circle cx="78" cy="33" r="13"/></clipPath></defs><g clip-path="url(#lc)"><rect x="65" y="38.5" width="6.2" height="10" fill="#e8505b" stroke="#111" stroke-width="1"/><rect x="74.5" y="32.2" width="6.8" height="16" fill="#8bc34a" stroke="#111" stroke-width="1"/><rect x="84.5" y="27.5" width="8" height="20" fill="#8bc34a" stroke="#111" stroke-width="1"/></g><circle cx="78" cy="33" r="13" fill="none" stroke="#000" stroke-width="1.9" stroke-dasharray="6.9 3.31" stroke-linecap="round" transform="rotate(5 78 33)"/><g stroke="#6b7280" stroke-width="2.2" fill="none" stroke-linecap="round" stroke-linejoin="round"><path d="M276.5 33H255.5M262.5 26L255.5 33L262.5 40"/><path d="M295.5 33H316.5M309.5 26L316.5 33L309.5 40"/></g><g transform="translate(434,23)" stroke="#6b7280" stroke-width="2" fill="none"><path d="M6 6h8v8H6z"/><path d="M6 6V3.5A2.5 2.5 0 1 0 3.5 6H6M14 6V3.5A2.5 2.5 0 1 1 16.5 6H14M6 14v2.5A2.5 2.5 0 1 1 3.5 14H6M14 14v2.5a2.5 2.5 0 1 0 2.5-2.5H14"/></g><g stroke="#6b7280" stroke-width="1.5" fill="none"><circle cx="1762.3" cy="31.2" r="5.9"/><line x1="1768.2" y1="37.2" x2="1771.6" y2="40.6" stroke-linecap="round"/></g><g fill="#6b7280"><rect x="1796" y="24.5" width="7.2" height="7.2" rx="1.8"/><rect x="1805.2" y="24.5" width="7.2" height="7.2" rx="1.8"/><rect x="1796" y="33.8" width="7.2" height="7.2" rx="1.8"/><rect x="1805.2" y="33.8" width="7.2" height="7.2" rx="1.8"/></g><g fill="#6b7280"><circle cx="1844" cy="33" r="3.9"/><line x1="1850.20" y1="33.00" x2="1851.90" y2="33.00" stroke="#6b7280" stroke-width="1.7" stroke-linecap="round"/><line x1="1848.38" y1="37.38" x2="1849.59" y2="38.59" stroke="#6b7280" stroke-width="1.7" stroke-linecap="round"/><line x1="1844.00" y1="39.20" x2="1844.00" y2="40.90" stroke="#6b7280" stroke-width="1.7" stroke-linecap="round"/><line x1="1839.62" y1="37.38" x2="1838.41" y2="38.59" stroke="#6b7280" stroke-width="1.7" stroke-linecap="round"/><line x1="1837.80" y1="33.00" x2="1836.10" y2="33.00" stroke="#6b7280" stroke-width="1.7" stroke-linecap="round"/><line x1="1839.62" y1="28.62" x2="1838.41" y2="27.41" stroke="#6b7280" stroke-width="1.7" stroke-linecap="round"/><line x1="1844.00" y1="26.80" x2="1844.00" y2="25.10" stroke="#6b7280" stroke-width="1.7" stroke-linecap="round"/><line x1="1848.38" y1="28.62" x2="1849.59" y2="27.41" stroke="#6b7280" stroke-width="1.7" stroke-linecap="round"/></g><circle cx="1888" cy="33" r="12" fill="#6b7280"/><circle cx="1888" cy="30.2" r="4" fill="#fff"/><path d="M1881.2 40.8 Q1882.6 36.4 1888 36.4 Q1893.4 36.4 1894.8 40.8 Q1892.2 43.3 1888 43.3 Q1883.8 43.3 1881.2 40.8Z" fill="#fff"/><g stroke="#111827" stroke-width="1.9" fill="none" stroke-linecap="round" stroke-linejoin="round"><path d="M37 96v7.5M42 98v5.5M46.5 95v8.5M51 96.5v7"/><path d="M36.5 92.5L40.5 89.3L45 93.5L51 89"/></g><g stroke="#6b7280" stroke-width="1.4" fill="none" stroke-linecap="round" stroke-linejoin="round"><path d="M257.5 93l2.8-2.8 2.8 2.8M257.5 97.5l2.8 2.8 2.8-2.8"/></g><path d="M1422.3 92.8l4.5 4.5 4.5-4.5" stroke="#111827" stroke-width="1.6" fill="none" stroke-linecap="round" stroke-linejoin="round"/><path d="M1628.5 92l4.2 4.2 4.2-4.2" stroke="#fff" stroke-width="1.6" fill="none" stroke-linecap="round" stroke-linejoin="round"/><g fill="#6b7280"><rect x="1675.5" y="88" width="16.5" height="14.5" rx="2"/><rect x="1678" y="86.3" width="1.8" height="3" rx="0.5"/><rect x="1681.5" y="86.3" width="1.8" height="3" rx="0.5"/><rect x="1685" y="86.3" width="1.8" height="3" rx="0.5"/><rect x="1688.5" y="86.3" width="1.8" height="3" rx="0.5"/><rect x="1678.5" y="93" width="10.5" height="1.8" fill="#f9fafb"/></g><circle cx="32" cy="209.7" r="9.7" fill="#6b7280"/><rect x="31.8" y="199" width="2.6" height="11.3" fill="#fff"/><rect x="31.8" y="207.3" width="11" height="3" fill="#fff"/><rect x="20" y="246" width="20" height="14" rx="2" fill="#6b7280"/><rect x="22" y="251.5" width="7.3" height="6" fill="#fff"/><rect x="30.7" y="251.5" width="7.3" height="6" fill="#fff"/><path d="M217.7 255.4l5.3 5.3 5.3-5.3" stroke="#111827" stroke-width="2.2" fill="none" stroke-linecap="round" stroke-linejoin="round"/><g fill="#6b7280"><rect x="24.1" y="294" width="1.7" height="3.2" rx="0.5"/><rect x="29.2" y="294" width="1.7" height="3.2" rx="0.5"/><rect x="34.3" y="294" width="1.7" height="3.2" rx="0.5"/><path d="M20 299.8v-1.6a2 2 0 0 1 2-2h16a2 2 0 0 1 2 2v1.6z"/><path d="M20 301.3h20v10.5a2 2 0 0 1-2 2h-16a2 2 0 0 1-2-2z"/></g><rect x="23.8" y="304.2" width="12.2" height="1.9" rx="0.9" fill="#fff"/><path d="M217.7 303.4l5.3 5.3 5.3-5.3" stroke="#111827" stroke-width="2.2" fill="none" stroke-linecap="round" stroke-linejoin="round"/><g fill="#6b7280"><path d="M27.2 342H34a2 2 0 0 1 2 2V359.7a2 2 0 0 1-2 2H21.9a2 2 0 0 1-2-2V348.8H27.2Z"/><path d="M19.9 346.8L24.8 342V346.8Z"/></g><path d="M27.6 357.4L38 347" stroke="#fff" stroke-width="8.6" stroke-linecap="round"/><path d="M28.3 356.7L37.6 347.4" stroke="#6b7280" stroke-width="5.2" stroke-linecap="round"/><path d="M29.3 355.7L36.9 348.1" stroke="#fff" stroke-width="2" stroke-linecap="round"/><g fill="#6b7280"><rect x="21" y="393" width="16" height="19" rx="2"/><rect x="25" y="391.5" width="8" height="3" rx="1.2"/></g><rect x="24.9" y="395.2" width="8.2" height="2.8" fill="#fff"/><rect x="27" y="393.6" width="4" height="1.8" fill="#fff"/><path d="M24.6 403.5l2.8 2.8 5.2-5.6" stroke="#fff" stroke-width="1.8" fill="none" stroke-linecap="round" stroke-linejoin="round"/><g fill="#6b7280"><rect x="26" y="441" width="8" height="2" rx="0.8"/><rect x="24" y="444.2" width="12" height="2" rx="0.8"/><rect x="22" y="447.4" width="16.2" height="7.6" rx="2.2"/></g><g stroke="#6b7280" stroke-width="1.6" fill="none" stroke-linecap="round" stroke-linejoin="round"><path d="M30.7 500.2A2.8 2.8 0 0 0 26.1 499.3A3 3 0 0 0 23.7 503.4A3.6 3.6 0 0 0 22.6 509.3A3.3 3.3 0 0 0 24.7 514.9A3.1 3.1 0 0 0 30.7 515.8"/><path d="M31.8 500.2A2.8 2.8 0 0 1 36.4 499.3A3 3 0 0 1 38.8 503.4A3.6 3.6 0 0 1 39.9 509.3A3.3 3.3 0 0 1 37.8 514.9A3.1 3.1 0 0 1 31.8 515.8"/><path d="M30.8 500v16M31.7 500v16"/><path d="M24.2 504.3h2.6M35.7 504.3h2.6M24.4 512.6h2.6M35.5 512.6h2.6"/></g><g transform="translate(30,568)" fill="#6b7280"><circle r="7.10"/><rect x="-2.02" y="-9.60" width="4.03" height="4.80" rx="1.41" transform="rotate(0)"/><rect x="-2.02" y="-9.60" width="4.03" height="4.80" rx="1.41" transform="rotate(45)"/><rect x="-2.02" y="-9.60" width="4.03" height="4.80" rx="1.41" transform="rotate(90)"/><rect x="-2.02" y="-9.60" width="4.03" height="4.80" rx="1.41" transform="rotate(135)"/><rect x="-2.02" y="-9.60" width="4.03" height="4.80" rx="1.41" transform="rotate(180)"/><rect x="-2.02" y="-9.60" width="4.03" height="4.80" rx="1.41" transform="rotate(225)"/><rect x="-2.02" y="-9.60" width="4.03" height="4.80" rx="1.41" transform="rotate(270)"/><rect x="-2.02" y="-9.60" width="4.03" height="4.80" rx="1.41" transform="rotate(315)"/><circle r="3.94" fill="#fff"/></g><path d="M217.7 567.4l5.3 5.3 5.3-5.3" stroke="#111827" stroke-width="2.2" fill="none" stroke-linecap="round" stroke-linejoin="round"/><path d="M26.6 608.4h7.4l5.2 5.2v12.5a1.7 1.7 0 0 1-1.7 1.7h-11.2a1.7 1.7 0 0 1-1.7-1.7v-16a1.7 1.7 0 0 1 1.7-1.7z" fill="#6b7280"/><g fill="#fff"><rect x="27.2" y="619.2" width="2" height="5.6" rx="0.5"/><rect x="31" y="617" width="2" height="7.8" rx="0.5"/><rect x="34.6" y="614.2" width="2" height="10.6" rx="0.5"/></g><path d="M217.7 615.4l5.3 5.3 5.3-5.3" stroke="#111827" stroke-width="2.2" fill="none" stroke-linecap="round" stroke-linejoin="round"/><g fill="#6b7280"><path d="M31.1 656h7.1000000000000005a1.8 1.8 0 0 1 1.8 1.8v16.099999999999998a1.8 1.8 0 0 1-1.8 1.8h-12.4a1.8 1.8 0 0 1-1.8-1.8V663.1h4.8a2.3000000000000003 2.3000000000000003 0 0 0 2.3000000000000003-2.3000000000000003z"/><path d="M24 661.0L29.0 656V661.0z"/></g><g fill="#fff"><rect x="28" y="669.1" width="2" height="4.4" rx="0.4"/><rect x="31.1" y="665.3000000000001" width="2" height="8.2" rx="0.4"/><rect x="34.2" y="667.3000000000001" width="2" height="6.2" rx="0.4"/></g><path d="M217.7 663.4l5.3 5.3 5.3-5.3" stroke="#111827" stroke-width="2.2" fill="none" stroke-linecap="round" stroke-linejoin="round"/><g fill="#6b7280"><path d="M31.1 716h7.1000000000000005a1.8 1.8 0 0 1 1.8 1.8v16.099999999999998a1.8 1.8 0 0 1-1.8 1.8h-12.4a1.8 1.8 0 0 1-1.8-1.8V723.1h4.8a2.3000000000000003 2.3000000000000003 0 0 0 2.3000000000000003-2.3000000000000003z"/><path d="M24 721.0L29.0 716V721.0z"/></g><g fill="#fff"><rect x="28" y="729.1" width="2" height="4.4" rx="0.4"/><rect x="31.1" y="725.3000000000001" width="2" height="8.2" rx="0.4"/><rect x="34.2" y="727.3000000000001" width="2" height="6.2" rx="0.4"/></g><path d="M217.7 723.1l5.3 5.3 5.3-5.3" stroke="#111827" stroke-width="2.2" fill="none" stroke-linecap="round" stroke-linejoin="round"/><g fill="#6b7280"><path d="M29.1 774h7.1000000000000005a1.8 1.8 0 0 1 1.8 1.8v16.0a1.8 1.8 0 0 1-1.8 1.8h-12.4a1.8 1.8 0 0 1-1.8-1.8V781.1h4.8a2.3000000000000003 2.3000000000000003 0 0 0 2.3000000000000003-2.3000000000000003z"/><path d="M22 779.0L27.0 774V779.0z"/></g><g fill="#fff"><rect x="26" y="787.0" width="2" height="4.4" rx="0.4"/><rect x="29.1" y="783.2" width="2" height="8.2" rx="0.4"/><rect x="32.2" y="785.2" width="2" height="6.2" rx="0.4"/></g><path d="M215.7 781.6l5.3 5.3 5.3-5.3" stroke="#111827" stroke-width="2.2" fill="none" stroke-linecap="round" stroke-linejoin="round"/><path d="M215.7 829.3l5.3 5.3 5.3-5.3" stroke="#111827" stroke-width="2.2" fill="none" stroke-linecap="round" stroke-linejoin="round"/><path d="M215.7 1028.8l5.3 5.3 5.3-5.3" stroke="#111827" stroke-width="2.2" fill="none" stroke-linecap="round" stroke-linejoin="round"/><g fill="#6b7280"><path d="M29.1 1150h7.1000000000000005a1.8 1.8 0 0 1 1.8 1.8v16.099999999999998a1.8 1.8 0 0 1-1.8 1.8h-12.4a1.8 1.8 0 0 1-1.8-1.8V1157.1h4.8a2.3000000000000003 2.3000000000000003 0 0 0 2.3000000000000003-2.3000000000000003z"/><path d="M22 1155.0L27.0 1150V1155.0z"/></g><g fill="#fff"><rect x="26" y="1163.1000000000001" width="2" height="4.4" rx="0.4"/><rect x="29.1" y="1159.3" width="2" height="8.2" rx="0.4"/><rect x="32.2" y="1161.3" width="2" height="6.2" rx="0.4"/></g><path d="M215.7 1157.4l5.3 5.3 5.3-5.3" stroke="#111827" stroke-width="2.2" fill="none" stroke-linecap="round" stroke-linejoin="round"/><g fill="#6b7280"><path d="M29.1 1198.3h7.1000000000000005a1.8 1.8 0 0 1 1.8 1.8v16.099999999999998a1.8 1.8 0 0 1-1.8 1.8h-12.4a1.8 1.8 0 0 1-1.8-1.8V1205.3999999999999h4.8a2.3000000000000003 2.3000000000000003 0 0 0 2.3000000000000003-2.3000000000000003z"/><path d="M22 1203.3L27.0 1198.3V1203.3z"/></g><g fill="#fff"><rect x="26" y="1211.4" width="2" height="4.4" rx="0.4"/><rect x="29.1" y="1207.6" width="2" height="8.2" rx="0.4"/><rect x="32.2" y="1209.6" width="2" height="6.2" rx="0.4"/></g><path d="M215.7 1205.6l5.3 5.3 5.3-5.3" stroke="#111827" stroke-width="2.2" fill="none" stroke-linecap="round" stroke-linejoin="round"/><g stroke="#6b7280" stroke-width="2.2" stroke-linecap="round" fill="#6b7280"><line x1="70" y1="1613" x2="70" y2="1625.5"/><line x1="76" y1="1613" x2="76" y2="1625.5"/><line x1="82" y1="1613" x2="82" y2="1625.5"/><path d="M70 1619.6l2 2.4-2 2.4-2-2.4z" stroke="none"/><path d="M76 1613l2 2.4-2 2.4-2-2.4z" stroke="none"/><path d="M82 1619.6l2 2.4-2 2.4-2-2.4z" stroke="none"/></g><g fill="#6b7280"><rect x="118" y="1621" width="20" height="8" rx="2"/></g><path d="M128 1619v4.6" stroke="#fff" stroke-width="5" stroke-linecap="round"/><path d="M128 1624v-13.5M123.5 1615l4.5-4.5 4.5 4.5" stroke="#6b7280" stroke-width="2" fill="none" stroke-linecap="round" stroke-linejoin="round"/><rect x="132.3" y="1624.6" width="2" height="2" fill="#fff"/><rect x="170" y="1612" width="19.8" height="13.6" rx="3.2" fill="#6b7280"/><path d="M178 1615.8v6.2l5.2-3.1z" fill="#fff"/><g fill="#9ca3af"><circle cx="412.7" cy="159.9" r="1.6"/><circle cx="420" cy="159.9" r="1.6"/><circle cx="427.3" cy="159.9" r="1.6"/></g><g transform="translate(499,158.2)" fill="#9ca3af"><circle r="4.88"/><rect x="-1.39" y="-6.60" width="2.77" height="3.30" rx="0.97" transform="rotate(0)"/><rect x="-1.39" y="-6.60" width="2.77" height="3.30" rx="0.97" transform="rotate(45)"/><rect x="-1.39" y="-6.60" width="2.77" height="3.30" rx="0.97" transform="rotate(90)"/><rect x="-1.39" y="-6.60" width="2.77" height="3.30" rx="0.97" transform="rotate(135)"/><rect x="-1.39" y="-6.60" width="2.77" height="3.30" rx="0.97" transform="rotate(180)"/><rect x="-1.39" y="-6.60" width="2.77" height="3.30" rx="0.97" transform="rotate(225)"/><rect x="-1.39" y="-6.60" width="2.77" height="3.30" rx="0.97" transform="rotate(270)"/><rect x="-1.39" y="-6.60" width="2.77" height="3.30" rx="0.97" transform="rotate(315)"/><circle r="2.44" fill="#fff"/></g><g fill="#9ca3af"><circle cx="424.7" cy="298.4" r="1.6"/><circle cx="432" cy="298.4" r="1.6"/><circle cx="439.3" cy="298.4" r="1.6"/></g><g transform="translate(499,297.2)" fill="#9ca3af"><circle r="4.88"/><rect x="-1.39" y="-6.60" width="2.77" height="3.30" rx="0.97" transform="rotate(0)"/><rect x="-1.39" y="-6.60" width="2.77" height="3.30" rx="0.97" transform="rotate(45)"/><rect x="-1.39" y="-6.60" width="2.77" height="3.30" rx="0.97" transform="rotate(90)"/><rect x="-1.39" y="-6.60" width="2.77" height="3.30" rx="0.97" transform="rotate(135)"/><rect x="-1.39" y="-6.60" width="2.77" height="3.30" rx="0.97" transform="rotate(180)"/><rect x="-1.39" y="-6.60" width="2.77" height="3.30" rx="0.97" transform="rotate(225)"/><rect x="-1.39" y="-6.60" width="2.77" height="3.30" rx="0.97" transform="rotate(270)"/><rect x="-1.39" y="-6.60" width="2.77" height="3.30" rx="0.97" transform="rotate(315)"/><circle r="2.44" fill="#fff"/></g><g fill="#9ca3af"><circle cx="414.7" cy="437" r="1.6"/><circle cx="422" cy="437" r="1.6"/><circle cx="429.3" cy="437" r="1.6"/></g><g transform="translate(499,435.2)" fill="#9ca3af"><circle r="4.88"/><rect x="-1.39" y="-6.60" width="2.77" height="3.30" rx="0.97" transform="rotate(0)"/><rect x="-1.39" y="-6.60" width="2.77" height="3.30" rx="0.97" transform="rotate(45)"/><rect x="-1.39" y="-6.60" width="2.77" height="3.30" rx="0.97" transform="rotate(90)"/><rect x="-1.39" y="-6.60" width="2.77" height="3.30" rx="0.97" transform="rotate(135)"/><rect x="-1.39" y="-6.60" width="2.77" height="3.30" rx="0.97" transform="rotate(180)"/><rect x="-1.39" y="-6.60" width="2.77" height="3.30" rx="0.97" transform="rotate(225)"/><rect x="-1.39" y="-6.60" width="2.77" height="3.30" rx="0.97" transform="rotate(270)"/><rect x="-1.39" y="-6.60" width="2.77" height="3.30" rx="0.97" transform="rotate(315)"/><circle r="2.44" fill="#fff"/></g><g fill="#9ca3af"><circle cx="1038.7" cy="159.8" r="1.6"/><circle cx="1046" cy="159.8" r="1.6"/><circle cx="1053.3" cy="159.8" r="1.6"/></g><g transform="translate(1470,158.5)" fill="#9ca3af"><circle r="4.88"/><rect x="-1.39" y="-6.60" width="2.77" height="3.30" rx="0.97" transform="rotate(0)"/><rect x="-1.39" y="-6.60" width="2.77" height="3.30" rx="0.97" transform="rotate(45)"/><rect x="-1.39" y="-6.60" width="2.77" height="3.30" rx="0.97" transform="rotate(90)"/><rect x="-1.39" y="-6.60" width="2.77" height="3.30" rx="0.97" transform="rotate(135)"/><rect x="-1.39" y="-6.60" width="2.77" height="3.30" rx="0.97" transform="rotate(180)"/><rect x="-1.39" y="-6.60" width="2.77" height="3.30" rx="0.97" transform="rotate(225)"/><rect x="-1.39" y="-6.60" width="2.77" height="3.30" rx="0.97" transform="rotate(270)"/><rect x="-1.39" y="-6.60" width="2.77" height="3.30" rx="0.97" transform="rotate(315)"/><circle r="2.44" fill="#fff"/></g><g stroke="#383c40" stroke-width="1.7" fill="none" stroke-linecap="round"><path d="M1401.2 197.5h-1.6a4.4 4.4 0 0 0 0 8.8h1.6"/><path d="M1406.6 197.5h1.6a4.4 4.4 0 0 1 0 8.8h-1.6"/><path d="M1400.0 201.9h7.6"/></g><g stroke="#383c40" stroke-width="1.7" fill="none" stroke-linecap="round" stroke-linejoin="round"><path d="M1443.7 193.8v12M1438.3 200.5l5.4 5.4 5.4-5.4"/><path d="M1437.9 209.5h11.6" stroke-width="1.9"/></g><path d="M1468.2 346.9l-4 4 4 4" stroke="#333" stroke-width="1.4" fill="none" stroke-linecap="round" stroke-linejoin="round"/><g fill="#9ca3af"><circle cx="1736.7" cy="159.7" r="1.6"/><circle cx="1744" cy="159.7" r="1.6"/><circle cx="1751.3" cy="159.7" r="1.6"/></g><g transform="translate(1886,158.5)" fill="#9ca3af"><circle r="4.88"/><rect x="-1.39" y="-6.60" width="2.77" height="3.30" rx="0.97" transform="rotate(0)"/><rect x="-1.39" y="-6.60" width="2.77" height="3.30" rx="0.97" transform="rotate(45)"/><rect x="-1.39" y="-6.60" width="2.77" height="3.30" rx="0.97" transform="rotate(90)"/><rect x="-1.39" y="-6.60" width="2.77" height="3.30" rx="0.97" transform="rotate(135)"/><rect x="-1.39" y="-6.60" width="2.77" height="3.30" rx="0.97" transform="rotate(180)"/><rect x="-1.39" y="-6.60" width="2.77" height="3.30" rx="0.97" transform="rotate(225)"/><rect x="-1.39" y="-6.60" width="2.77" height="3.30" rx="0.97" transform="rotate(270)"/><rect x="-1.39" y="-6.60" width="2.77" height="3.30" rx="0.97" transform="rotate(315)"/><circle r="2.44" fill="#fff"/></g><g stroke="#383c40" stroke-width="1.7" fill="none" stroke-linecap="round"><path d="M1817.2 196.9h-1.6a4.4 4.4 0 0 0 0 8.8h1.6"/><path d="M1822.6 196.9h1.6a4.4 4.4 0 0 1 0 8.8h-1.6"/><path d="M1816.0 201.3h7.6"/></g><g stroke="#383c40" stroke-width="1.7" fill="none" stroke-linecap="round" stroke-linejoin="round"><path d="M1859.3 193.5v12M1853.9 200.2l5.4 5.4 5.4-5.4"/><path d="M1853.5 209.2h11.6" stroke-width="1.9"/></g><path d="M1884.0 347.1l-4 4 4 4" stroke="#333" stroke-width="1.4" fill="none" stroke-linecap="round" stroke-linejoin="round"/><g fill="#9ca3af"><circle cx="579.4" cy="575.7" r="1.6"/><circle cx="586.7" cy="575.7" r="1.6"/><circle cx="594.0" cy="575.7" r="1.6"/></g><g transform="translate(777,573.7)" fill="#9ca3af"><circle r="4.88"/><rect x="-1.39" y="-6.60" width="2.77" height="3.30" rx="0.97" transform="rotate(0)"/><rect x="-1.39" y="-6.60" width="2.77" height="3.30" rx="0.97" transform="rotate(45)"/><rect x="-1.39" y="-6.60" width="2.77" height="3.30" rx="0.97" transform="rotate(90)"/><rect x="-1.39" y="-6.60" width="2.77" height="3.30" rx="0.97" transform="rotate(135)"/><rect x="-1.39" y="-6.60" width="2.77" height="3.30" rx="0.97" transform="rotate(180)"/><rect x="-1.39" y="-6.60" width="2.77" height="3.30" rx="0.97" transform="rotate(225)"/><rect x="-1.39" y="-6.60" width="2.77" height="3.30" rx="0.97" transform="rotate(270)"/><rect x="-1.39" y="-6.60" width="2.77" height="3.30" rx="0.97" transform="rotate(315)"/><circle r="2.44" fill="#fff"/></g><g stroke="#383c40" stroke-width="1.7" fill="none" stroke-linecap="round"><path d="M708.0 613.2h-1.6a4.4 4.4 0 0 0 0 8.8h1.6"/><path d="M713.4 613.2h1.6a4.4 4.4 0 0 1 0 8.8h-1.6"/><path d="M706.8 617.6h7.6"/></g><g stroke="#383c40" stroke-width="1.7" fill="none" stroke-linecap="round" stroke-linejoin="round"><path d="M750.1 609.8v12M744.7 616.5l5.4 5.4 5.4-5.4"/><path d="M744.3 625.5h11.6" stroke-width="1.9"/></g><path d="M774.9 832.1l-4 4 4 4" stroke="#333" stroke-width="1.4" fill="none" stroke-linecap="round" stroke-linejoin="round"/><g fill="#9ca3af"><circle cx="1399.7" cy="575.7" r="1.6"/><circle cx="1407" cy="575.7" r="1.6"/><circle cx="1414.3" cy="575.7" r="1.6"/></g><g transform="translate(1886,573.7)" fill="#9ca3af"><circle r="4.88"/><rect x="-1.39" y="-6.60" width="2.77" height="3.30" rx="0.97" transform="rotate(0)"/><rect x="-1.39" y="-6.60" width="2.77" height="3.30" rx="0.97" transform="rotate(45)"/><rect x="-1.39" y="-6.60" width="2.77" height="3.30" rx="0.97" transform="rotate(90)"/><rect x="-1.39" y="-6.60" width="2.77" height="3.30" rx="0.97" transform="rotate(135)"/><rect x="-1.39" y="-6.60" width="2.77" height="3.30" rx="0.97" transform="rotate(180)"/><rect x="-1.39" y="-6.60" width="2.77" height="3.30" rx="0.97" transform="rotate(225)"/><rect x="-1.39" y="-6.60" width="2.77" height="3.30" rx="0.97" transform="rotate(270)"/><rect x="-1.39" y="-6.60" width="2.77" height="3.30" rx="0.97" transform="rotate(315)"/><circle r="2.44" fill="#fff"/></g><g stroke="#383c40" stroke-width="1.7" fill="none" stroke-linecap="round"><path d="M1818.0 613.2h-1.6a4.4 4.4 0 0 0 0 8.8h1.6"/><path d="M1823.4 613.2h1.6a4.4 4.4 0 0 1 0 8.8h-1.6"/><path d="M1816.8 617.6h7.6"/></g><g stroke="#383c40" stroke-width="1.7" fill="none" stroke-linecap="round" stroke-linejoin="round"><path d="M1859.6 609.8v12M1854.2 616.5l5.4 5.4 5.4-5.4"/><path d="M1853.8 625.5h11.6" stroke-width="1.9"/></g><path d="M1884.3 832.0l-4 4 4 4" stroke="#333" stroke-width="1.4" fill="none" stroke-linecap="round" stroke-linejoin="round"/><g fill="#9ca3af"><circle cx="659.7" cy="1130.9" r="1.6"/><circle cx="667" cy="1130.9" r="1.6"/><circle cx="674.3" cy="1130.9" r="1.6"/></g><g transform="translate(914.8,1128.7)" fill="#9ca3af"><circle r="4.88"/><rect x="-1.39" y="-6.60" width="2.77" height="3.30" rx="0.97" transform="rotate(0)"/><rect x="-1.39" y="-6.60" width="2.77" height="3.30" rx="0.97" transform="rotate(45)"/><rect x="-1.39" y="-6.60" width="2.77" height="3.30" rx="0.97" transform="rotate(90)"/><rect x="-1.39" y="-6.60" width="2.77" height="3.30" rx="0.97" transform="rotate(135)"/><rect x="-1.39" y="-6.60" width="2.77" height="3.30" rx="0.97" transform="rotate(180)"/><rect x="-1.39" y="-6.60" width="2.77" height="3.30" rx="0.97" transform="rotate(225)"/><rect x="-1.39" y="-6.60" width="2.77" height="3.30" rx="0.97" transform="rotate(270)"/><rect x="-1.39" y="-6.60" width="2.77" height="3.30" rx="0.97" transform="rotate(315)"/><circle r="2.44" fill="#fff"/></g><g stroke="#383c40" stroke-width="1.7" fill="none" stroke-linecap="round"><path d="M846.6 1168.2h-1.6a4.4 4.4 0 0 0 0 8.8h1.6"/><path d="M852.0 1168.2h1.6a4.4 4.4 0 0 1 0 8.8h-1.6"/><path d="M845.4 1172.6h7.6"/></g><g stroke="#383c40" stroke-width="1.7" fill="none" stroke-linecap="round" stroke-linejoin="round"><path d="M888.9 1165.2v12M883.5 1171.9l5.4 5.4 5.4-5.4"/><path d="M883.1 1180.9h11.6" stroke-width="1.9"/></g><path d="M912.9 1385.9l-4 4 4 4" stroke="#333" stroke-width="1.4" fill="none" stroke-linecap="round" stroke-linejoin="round"/><g fill="#9ca3af"><circle cx="1472.7" cy="1131" r="1.6"/><circle cx="1480" cy="1131" r="1.6"/><circle cx="1487.3" cy="1131" r="1.6"/></g><g transform="translate(1886,1129)" fill="#9ca3af"><circle r="4.88"/><rect x="-1.39" y="-6.60" width="2.77" height="3.30" rx="0.97" transform="rotate(0)"/><rect x="-1.39" y="-6.60" width="2.77" height="3.30" rx="0.97" transform="rotate(45)"/><rect x="-1.39" y="-6.60" width="2.77" height="3.30" rx="0.97" transform="rotate(90)"/><rect x="-1.39" y="-6.60" width="2.77" height="3.30" rx="0.97" transform="rotate(135)"/><rect x="-1.39" y="-6.60" width="2.77" height="3.30" rx="0.97" transform="rotate(180)"/><rect x="-1.39" y="-6.60" width="2.77" height="3.30" rx="0.97" transform="rotate(225)"/><rect x="-1.39" y="-6.60" width="2.77" height="3.30" rx="0.97" transform="rotate(270)"/><rect x="-1.39" y="-6.60" width="2.77" height="3.30" rx="0.97" transform="rotate(315)"/><circle r="2.44" fill="#fff"/></g><path d="M1352.3 654.7h7l-3.5-3.7z" fill="#a3a3a3"/><path d="M1352.3 1017.8h7l-3.5 3.7z" fill="#505050"/><path d="M992.4 1050.4h8.2l-4.1 4.9z" fill="#181d1f"/><g stroke="#a3a8b0" stroke-width="1.4" fill="none" stroke-linecap="round" stroke-linejoin="round"><path d="M1162.2 1047.7v10M1171.2 1047.7l-5 5 5 5"/><path d="M1200.9 1047.7l-5 5 5 5"/></g><g stroke="#181d1f" stroke-width="1.4" fill="none" stroke-linecap="round" stroke-linejoin="round"><path d="M1295.5 1047.7l5 5-5 5"/><path d="M1328.5 1047.7l5 5-5 5M1337.5 1047.7v10"/></g><path d="M1879 1209.8h7l-3.5-3.7z" fill="#a3a3a3"/><path d="M1879 1572.3h7l-3.5 3.7z" fill="#a3a3a3"/><path d="M1313.6 1605.3h8.2l-4.1 4.9z" fill="#181d1f"/><g stroke="#a3a8b0" stroke-width="1.4" fill="none" stroke-linecap="round" stroke-linejoin="round"><path d="M1489 1602.8v10M1498 1602.8l-5 5 5 5"/><path d="M1527.5 1602.8l-5 5 5 5"/></g><g stroke="#a3a8b0" stroke-width="1.4" fill="none" stroke-linecap="round" stroke-linejoin="round"><path d="M1640.0 1602.8l5 5-5 5"/><path d="M1671.5 1602.8l5 5-5 5M1680.5 1602.8v10"/></g><line x1="628" y1="218.25" x2="1445" y2="218.25" stroke="#e0e6f1" stroke-width="1"/><text x="616.50" y="221.15" font-size="12" fill="#555" text-anchor="end" textLength="30.4" lengthAdjust="spacingAndGlyphs">2000</text><line x1="628" y1="296.25" x2="1445" y2="296.25" stroke="#e0e6f1" stroke-width="1"/><text x="616.50" y="299.15" font-size="12" fill="#555" text-anchor="end" textLength="30.4" lengthAdjust="spacingAndGlyphs">1000</text><line x1="628" y1="374.25" x2="1445" y2="374.25" stroke="#e0e6f1" stroke-width="1"/><text x="616.50" y="377.15" font-size="12" fill="#555" text-anchor="end" textLength="7.6" lengthAdjust="spacingAndGlyphs">0</text><line x1="628" y1="452.3" x2="1445" y2="452.3" stroke="#a8a8a8" stroke-width="1"/><text x="616.50" y="455.20" font-size="12" fill="#555" text-anchor="end" textLength="35.0" lengthAdjust="spacingAndGlyphs">-1000</text><path d="M629.8 370.2 L648.4 383.8 L667.7 370.2 L686.7 374.3 L705.3 395.8 L724.6 419.9 L743.6 398 L762.2 395.8 L781 423.1 L799.8 408.3 L818.6 405.2 L837.7 399.5 L856.3 393.2 L875.5 389.9 L894.6 383.3 L913.6 380 L932.4 379.2 L951.4 375 L970 367.3 L989.3 361.9 L1007.6 353.1 L1026.9 348.6 L1045.7 377.6 L1064.7 386.3 L1083.7 386.3 L1102.5 387.5 L1121.5 382.9 L1140.3 386.1 L1159.1 379.4 L1178.1 357.2 L1197.1 311.8 L1215.9 345.1 L1234.7 280.9 L1253.8 318 L1272.8 307.7 L1291.6 290.5 L1310.6 303.8 L1329.4 285.9 L1348.4 271 L1367.2 286.6 L1386.2 314.6 L1405 303.1 L1424 279.1 L1442.8 221.1" stroke="#f2622e" stroke-width="2" fill="none" stroke-linejoin="round"/><g fill="#f2622e"><circle cx="629.8" cy="370.2" r="3.3"/><circle cx="648.4" cy="383.8" r="3.3"/><circle cx="705.3" cy="395.8" r="3.3"/><circle cx="724.6" cy="419.9" r="3.3"/><circle cx="762.2" cy="395.8" r="3.3"/><circle cx="781" cy="423.1" r="3.3"/><circle cx="818.6" cy="405.2" r="3.3"/><circle cx="856.3" cy="393.2" r="3.3"/><circle cx="875.5" cy="389.9" r="3.3"/><circle cx="913.6" cy="380" r="3.3"/><circle cx="932.4" cy="379.2" r="3.3"/><circle cx="951.4" cy="375" r="3.3"/><circle cx="970" cy="367.3" r="3.3"/><circle cx="1026.9" cy="348.6" r="3.3"/><circle cx="1102.5" cy="387.5" r="3.3"/><circle cx="1140.3" cy="386.1" r="3.3"/><circle cx="1159.1" cy="379.4" r="3.3"/><circle cx="1178.1" cy="357.2" r="3.3"/><circle cx="1197.1" cy="311.8" r="3.3"/><circle cx="1215.9" cy="345.1" r="3.3"/><circle cx="1234.7" cy="280.9" r="3.3"/><circle cx="1253.8" cy="318" r="3.3"/><circle cx="1272.8" cy="307.7" r="3.3"/><circle cx="1291.6" cy="290.5" r="3.3"/><circle cx="1310.6" cy="303.8" r="3.3"/><circle cx="1329.4" cy="285.9" r="3.3"/><circle cx="1348.4" cy="271" r="3.3"/><circle cx="1367.2" cy="286.6" r="3.3"/><circle cx="1386.2" cy="314.6" r="3.3"/><circle cx="1405" cy="303.1" r="3.3"/><circle cx="1424" cy="279.1" r="3.3"/><circle cx="1442.8" cy="221.1" r="3.3"/></g><text x="633.40" y="472.50" font-size="12" fill="#555" text-anchor="end" textLength="71.5" lengthAdjust="spacingAndGlyphs" transform="rotate(-25 633.40 472.50)">2019-04-05</text><text x="671.22" y="472.50" font-size="12" fill="#555" text-anchor="end" textLength="71.5" lengthAdjust="spacingAndGlyphs" transform="rotate(-25 671.22 472.50)">2019-04-10</text><text x="709.04" y="472.50" font-size="12" fill="#555" text-anchor="end" textLength="71.5" lengthAdjust="spacingAndGlyphs" transform="rotate(-25 709.04 472.50)">2019-04-10</text><text x="746.86" y="472.50" font-size="12" fill="#555" text-anchor="end" textLength="71.5" lengthAdjust="spacingAndGlyphs" transform="rotate(-25 746.86 472.50)">2019-04-17</text><text x="784.68" y="472.50" font-size="12" fill="#555" text-anchor="end" textLength="71.5" lengthAdjust="spacingAndGlyphs" transform="rotate(-25 784.68 472.50)">2019-04-18</text><text x="822.50" y="472.50" font-size="12" fill="#555" text-anchor="end" textLength="71.5" lengthAdjust="spacingAndGlyphs" transform="rotate(-25 822.50 472.50)">2019-04-24</text><text x="860.32" y="472.50" font-size="12" fill="#555" text-anchor="end" textLength="71.5" lengthAdjust="spacingAndGlyphs" transform="rotate(-25 860.32 472.50)">2020-03-13</text><text x="898.14" y="472.50" font-size="12" fill="#555" text-anchor="end" textLength="71.5" lengthAdjust="spacingAndGlyphs" transform="rotate(-25 898.14 472.50)">2020-03-18</text><text x="935.96" y="472.50" font-size="12" fill="#555" text-anchor="end" textLength="71.5" lengthAdjust="spacingAndGlyphs" transform="rotate(-25 935.96 472.50)">2020-03-19</text><text x="973.78" y="472.50" font-size="12" fill="#555" text-anchor="end" textLength="71.5" lengthAdjust="spacingAndGlyphs" transform="rotate(-25 973.78 472.50)">2020-03-26</text><text x="1011.60" y="472.50" font-size="12" fill="#555" text-anchor="end" textLength="71.5" lengthAdjust="spacingAndGlyphs" transform="rotate(-25 1011.60 472.50)">2020-05-12</text><text x="1049.42" y="472.50" font-size="12" fill="#555" text-anchor="end" textLength="71.5" lengthAdjust="spacingAndGlyphs" transform="rotate(-25 1049.42 472.50)">2020-05-22</text><text x="1087.24" y="472.50" font-size="12" fill="#555" text-anchor="end" textLength="71.5" lengthAdjust="spacingAndGlyphs" transform="rotate(-25 1087.24 472.50)">2020-05-22</text><text x="1125.06" y="472.50" font-size="12" fill="#555" text-anchor="end" textLength="71.5" lengthAdjust="spacingAndGlyphs" transform="rotate(-25 1125.06 472.50)">2020-06-02</text><text x="1162.88" y="472.50" font-size="12" fill="#555" text-anchor="end" textLength="71.5" lengthAdjust="spacingAndGlyphs" transform="rotate(-25 1162.88 472.50)">2021-04-01</text><text x="1200.70" y="472.50" font-size="12" fill="#555" text-anchor="end" textLength="71.5" lengthAdjust="spacingAndGlyphs" transform="rotate(-25 1200.70 472.50)">2021-04-13</text><text x="1238.52" y="472.50" font-size="12" fill="#555" text-anchor="end" textLength="71.5" lengthAdjust="spacingAndGlyphs" transform="rotate(-25 1238.52 472.50)">2021-04-22</text><text x="1276.34" y="472.50" font-size="12" fill="#555" text-anchor="end" textLength="71.5" lengthAdjust="spacingAndGlyphs" transform="rotate(-25 1276.34 472.50)">2021-05-18</text><text x="1314.16" y="472.50" font-size="12" fill="#555" text-anchor="end" textLength="71.5" lengthAdjust="spacingAndGlyphs" transform="rotate(-25 1314.16 472.50)">2021-05-28</text><text x="1351.98" y="472.50" font-size="12" fill="#555" text-anchor="end" textLength="71.5" lengthAdjust="spacingAndGlyphs" transform="rotate(-25 1351.98 472.50)">2021-10-08</text><text x="1389.80" y="472.50" font-size="12" fill="#555" text-anchor="end" textLength="71.5" lengthAdjust="spacingAndGlyphs" transform="rotate(-25 1389.80 472.50)">2021-11-15</text><text x="1427.62" y="472.50" font-size="12" fill="#555" text-anchor="end" textLength="71.5" lengthAdjust="spacingAndGlyphs" transform="rotate(-25 1427.62 472.50)">2021-12-22</text><line x1="1590.7" y1="219" x2="1590.7" y2="463.8" stroke="#a8a8a8" stroke-width="1"/><text x="1590.70" y="486.00" font-size="12" fill="#555" text-anchor="middle" textLength="33.1" lengthAdjust="spacingAndGlyphs">-1000</text><line x1="1658.2" y1="219" x2="1658.2" y2="463.8" stroke="#e0e6f1" stroke-width="1"/><text x="1658.20" y="486.00" font-size="12" fill="#555" text-anchor="middle" textLength="7.2" lengthAdjust="spacingAndGlyphs">0</text><line x1="1726.2" y1="219" x2="1726.2" y2="463.8" stroke="#e0e6f1" stroke-width="1"/><text x="1726.20" y="486.00" font-size="12" fill="#555" text-anchor="middle" textLength="28.8" lengthAdjust="spacingAndGlyphs">1000</text><line x1="1794.2" y1="219" x2="1794.2" y2="463.8" stroke="#e0e6f1" stroke-width="1"/><text x="1794.20" y="486.00" font-size="12" fill="#555" text-anchor="middle" textLength="28.8" lengthAdjust="spacingAndGlyphs">2000</text><line x1="1862.4" y1="219" x2="1862.4" y2="463.8" stroke="#e0e6f1" stroke-width="1"/><text x="1862.40" y="486.00" font-size="12" fill="#555" text-anchor="middle" textLength="28.8" lengthAdjust="spacingAndGlyphs">3000</text><rect x="1658.2" y="224" width="154.8" height="28.9" fill="#f2622e"/><text x="1578.60" y="242.75" font-size="12" fill="#555" text-anchor="end" font-weight="700">Wed</text><rect x="1658.2" y="265.3" width="128.6" height="28.4" fill="#f2622e"/><text x="1578.60" y="283.80" font-size="12" fill="#555" text-anchor="end" font-weight="700">Tue</text><rect x="1658.2" y="306" width="117.7" height="28.8" fill="#f2622e"/><text x="1578.60" y="324.70" font-size="12" fill="#555" text-anchor="end" font-weight="700">Fri</text><rect x="1658.2" y="346.9" width="73.7" height="28.6" fill="#f2622e"/><text x="1578.60" y="365.50" font-size="12" fill="#555" text-anchor="end" font-weight="700">Sat</text><rect x="1647.8" y="387.9" width="10.4" height="28.9" fill="#f2622e"/><text x="1578.60" y="406.65" font-size="12" fill="#555" text-anchor="end" font-weight="700">Mon</text><rect x="1624.8" y="429.2" width="33.4" height="28.4" fill="#f2622e"/><text x="1578.60" y="447.70" font-size="12" fill="#555" text-anchor="end" font-weight="700">Thu</text><rect x="1671" y="488" width="15" height="15" fill="#f2622e"/><text x="1694.00" y="500.00" font-size="12" fill="#666" text-anchor="start" textLength="47.8" lengthAdjust="spacingAndGlyphs">Total Pnl</text><path d="M527.9 811.4L527.90 672.10A139.3 139.3 0 0 1 601.92 929.40Z" fill="#f2622e" stroke="#b54a23" stroke-width="0.9"/><path d="M527.9 811.4L601.92 929.40A139.3 139.3 0 0 1 397.34 859.96Z" fill="#f9a71d" stroke="#b97c16" stroke-width="0.9"/><path d="M527.9 811.4L397.34 859.96A139.3 139.3 0 0 1 444.26 700.00Z" fill="#5ab75b" stroke="#3f8a40" stroke-width="0.9"/><path d="M527.9 811.4L444.26 700.00A139.3 139.3 0 0 1 483.70 679.30Z" fill="#42a9cb" stroke="#2b7891" stroke-width="0.9"/><path d="M527.9 811.4L483.70 679.30A139.3 139.3 0 0 1 516.49 672.57Z" fill="#4358cb" stroke="#2e3d92" stroke-width="0.9"/><path d="M527.9 811.4L516.49 672.57A139.3 139.3 0 0 1 527.90 672.10Z" fill="#9b44cc" stroke="#6c2f8f" stroke-width="0.9"/><line x1="662.3" y1="772.6" x2="671.4" y2="769.6" stroke="#b54a23" stroke-width="1.6"/><line x1="393.5" y1="771" x2="386.5" y2="769" stroke="#3f8a40" stroke-width="1.6"/><line x1="484.5" y1="944.5" x2="481.8" y2="952" stroke="#b97c16" stroke-width="1.6"/><line x1="462.8" y1="689" x2="457.8" y2="679.5" stroke="#23687e" stroke-width="1.6"/><line x1="501.2" y1="674.5" x2="498.5" y2="663.8" stroke="#26358a" stroke-width="1.6"/><line x1="522.4" y1="672" x2="521.9" y2="648.5" stroke="#5f2580" stroke-width="1.6"/><text x="673.80" y="772.50" font-size="12" fill="#444" text-anchor="start" textLength="32.5" lengthAdjust="spacingAndGlyphs">stock</text><text x="382.00" y="772.30" font-size="12" fill="#444" text-anchor="end" textLength="36.5" lengthAdjust="spacingAndGlyphs">future</text><text x="402.80" y="964.50" font-size="12" fill="#444" text-anchor="start" textLength="76.5" lengthAdjust="spacingAndGlyphs">stock_option</text><text x="379.40" y="674.20" font-size="12" fill="#444" text-anchor="start" textLength="77.4" lengthAdjust="spacingAndGlyphs">index_option</text><text x="466.70" y="659.50" font-size="12" fill="#444" text-anchor="start" textLength="30.7" lengthAdjust="spacingAndGlyphs">forex</text><text x="409.00" y="643.70" font-size="12" fill="#444" text-anchor="start" textLength="112.5" lengthAdjust="spacingAndGlyphs">stock_and_soption</text><rect x="352.8" y="1018.7" width="15.3" height="15.4" fill="#f2622e" stroke="#b54a23" stroke-width="1"/><text x="375.40" y="1030.70" font-size="12" fill="#555" text-anchor="start" textLength="29.8" lengthAdjust="spacingAndGlyphs">stock</text><rect x="463.9" y="1018.7" width="15.3" height="15.4" fill="#f9a71d" stroke="#c98a1a" stroke-width="1"/><text x="486.50" y="1030.70" font-size="12" fill="#555" text-anchor="start" textLength="71.8" lengthAdjust="spacingAndGlyphs">stock_option</text><rect x="574.7" y="1018.7" width="15.3" height="15.4" fill="#5ab75b" stroke="#3f8a40" stroke-width="1"/><text x="597.30" y="1030.70" font-size="12" fill="#555" text-anchor="start" textLength="32.7" lengthAdjust="spacingAndGlyphs">future</text><rect x="352.8" y="1041.8" width="15.3" height="15.4" fill="#42a9cb" stroke="#2b7891" stroke-width="1"/><text x="375.40" y="1053.80" font-size="12" fill="#555" text-anchor="start" textLength="72.5" lengthAdjust="spacingAndGlyphs">index_option</text><rect x="463.9" y="1041.8" width="15.3" height="15.4" fill="#4358cb" stroke="#2e3d92" stroke-width="1"/><text x="486.50" y="1053.80" font-size="12" fill="#555" text-anchor="start" textLength="28.4" lengthAdjust="spacingAndGlyphs">forex</text><rect x="574.7" y="1041.8" width="15.3" height="15.4" fill="#9b44cc" stroke="#6c2f8f" stroke-width="1"/><text x="597.30" y="1053.80" font-size="12" fill="#555" text-anchor="start" textLength="106.6" lengthAdjust="spacingAndGlyphs">stock_and_soption</text><line x1="1428.1" y1="634.6" x2="1817.4" y2="634.6" stroke="#e0e6f1" stroke-width="1"/><text x="1416.30" y="638.00" font-size="12" fill="#555" text-anchor="end" textLength="29.6" lengthAdjust="spacingAndGlyphs">2500</text><line x1="1428.1" y1="693.4" x2="1817.4" y2="693.4" stroke="#e0e6f1" stroke-width="1"/><text x="1416.30" y="696.80" font-size="12" fill="#555" text-anchor="end" textLength="29.6" lengthAdjust="spacingAndGlyphs">2000</text><line x1="1428.1" y1="752.4" x2="1817.4" y2="752.4" stroke="#e0e6f1" stroke-width="1"/><text x="1416.30" y="755.80" font-size="12" fill="#555" text-anchor="end" textLength="29.6" lengthAdjust="spacingAndGlyphs">1500</text><line x1="1428.1" y1="811.3" x2="1817.4" y2="811.3" stroke="#e0e6f1" stroke-width="1"/><text x="1416.30" y="814.70" font-size="12" fill="#555" text-anchor="end" textLength="29.6" lengthAdjust="spacingAndGlyphs">1000</text><line x1="1428.1" y1="870.2" x2="1817.4" y2="870.2" stroke="#e0e6f1" stroke-width="1"/><text x="1416.30" y="873.60" font-size="12" fill="#555" text-anchor="end" textLength="22.2" lengthAdjust="spacingAndGlyphs">500</text><line x1="1428.1" y1="929.0" x2="1817.4" y2="929.0" stroke="#e0e6f1" stroke-width="1"/><text x="1416.30" y="932.40" font-size="12" fill="#555" text-anchor="end" textLength="7.4" lengthAdjust="spacingAndGlyphs">0</text><line x1="1428.1" y1="988.2" x2="1817.4" y2="988.2" stroke="#a8a8a8" stroke-width="1"/><text x="1416.30" y="991.60" font-size="12" fill="#555" text-anchor="end" textLength="26.7" lengthAdjust="spacingAndGlyphs">-500</text><text x="1829.30" y="638.20" font-size="12" fill="#555" text-anchor="start" textLength="29.6" lengthAdjust="spacingAndGlyphs">6000</text><text x="1829.30" y="697.13" font-size="12" fill="#555" text-anchor="start" textLength="29.6" lengthAdjust="spacingAndGlyphs">5000</text><text x="1829.30" y="756.06" font-size="12" fill="#555" text-anchor="start" textLength="29.6" lengthAdjust="spacingAndGlyphs">4000</text><text x="1829.30" y="814.99" font-size="12" fill="#555" text-anchor="start" textLength="29.6" lengthAdjust="spacingAndGlyphs">3000</text><text x="1829.30" y="873.92" font-size="12" fill="#555" text-anchor="start" textLength="29.6" lengthAdjust="spacingAndGlyphs">2000</text><text x="1829.30" y="932.85" font-size="12" fill="#555" text-anchor="start" textLength="29.6" lengthAdjust="spacingAndGlyphs">1000</text><text x="1829.30" y="991.78" font-size="12" fill="#555" text-anchor="start" textLength="7.4" lengthAdjust="spacingAndGlyphs">0</text><g fill="#f2622e"><rect x="1429.32" y="878.43" width="4.9" height="50.57"/><rect x="1444.01" y="925.12" width="4.9" height="3.88"/><rect x="1451.36" y="904.89" width="4.9" height="24.11"/><rect x="1458.70" y="841.15" width="4.9" height="87.85"/><rect x="1466.05" y="924.65" width="4.9" height="4.35"/><rect x="1473.39" y="893.72" width="4.9" height="35.28"/><rect x="1480.74" y="929.00" width="4.9" height="14.70"/><rect x="1488.08" y="905.48" width="4.9" height="23.52"/><rect x="1495.43" y="927.82" width="4.9" height="1.18"/><rect x="1502.78" y="922.53" width="4.9" height="6.47"/><rect x="1510.12" y="929.00" width="4.9" height="50.10"/><rect x="1524.81" y="929.00" width="4.9" height="3.76"/><rect x="1532.16" y="667.34" width="4.9" height="261.66"/><rect x="1539.50" y="910.18" width="4.9" height="18.82"/><rect x="1546.85" y="929.00" width="4.9" height="40.92"/><rect x="1554.19" y="894.19" width="4.9" height="34.81"/><rect x="1561.54" y="929.00" width="4.9" height="3.76"/><rect x="1568.88" y="905.48" width="4.9" height="23.52"/><rect x="1576.23" y="917.24" width="4.9" height="11.76"/><rect x="1583.57" y="842.21" width="4.9" height="86.79"/><rect x="1590.92" y="891.25" width="4.9" height="37.75"/><rect x="1598.26" y="911.24" width="4.9" height="17.76"/><rect x="1605.61" y="929.00" width="4.9" height="40.92"/><rect x="1612.95" y="929.00" width="4.9" height="23.87"/><rect x="1620.30" y="905.83" width="4.9" height="23.17"/><rect x="1627.65" y="902.07" width="4.9" height="26.93"/><rect x="1634.99" y="929.00" width="4.9" height="19.52"/><rect x="1642.34" y="902.07" width="4.9" height="26.93"/><rect x="1649.68" y="913.24" width="4.9" height="15.76"/><rect x="1657.03" y="929.00" width="4.9" height="54.10"/><rect x="1664.37" y="832.22" width="4.9" height="96.78"/><rect x="1671.72" y="929.00" width="4.9" height="49.39"/><rect x="1679.06" y="860.09" width="4.9" height="68.91"/><rect x="1686.41" y="895.13" width="4.9" height="33.87"/><rect x="1693.75" y="919.24" width="4.9" height="9.76"/><rect x="1701.10" y="926.18" width="4.9" height="2.82"/><rect x="1708.44" y="929.00" width="4.9" height="33.16"/><rect x="1715.79" y="900.07" width="4.9" height="28.93"/><rect x="1723.13" y="918.06" width="4.9" height="10.94"/><rect x="1730.48" y="922.06" width="4.9" height="6.94"/><rect x="1737.82" y="927.00" width="4.9" height="2.00"/><rect x="1745.17" y="914.30" width="4.9" height="14.70"/><rect x="1752.52" y="923.94" width="4.9" height="5.06"/><rect x="1759.86" y="910.07" width="4.9" height="18.93"/><rect x="1767.21" y="901.13" width="4.9" height="27.87"/><rect x="1774.55" y="929.00" width="4.9" height="38.57"/><rect x="1781.90" y="890.07" width="4.9" height="38.93"/><rect x="1789.24" y="929.00" width="4.9" height="35.52"/><rect x="1796.59" y="929.00" width="4.9" height="16.46"/><rect x="1803.93" y="929.00" width="4.9" height="15.76"/><rect x="1811.28" y="922.06" width="4.9" height="6.94"/></g><path d="M1431.77 975.29 L1439.12 985.49 L1446.46 988.08 L1453.81 976.41 L1461.15 987.85 L1468.50 976.41 L1475.84 987.49 L1483.19 976.41 L1490.53 988.08 L1497.88 752.48 L1505.23 929.27 L1512.57 988.20 L1519.92 952.55 L1527.26 976.41 L1534.61 976.71 L1541.95 929.27 L1549.30 988.20 L1556.64 988.20 L1563.99 986.43 L1571.33 905.05 L1578.68 988.20 L1586.02 964.22 L1593.37 976.41 L1600.71 988.20 L1608.06 987.61 L1615.40 964.22 L1622.75 988.20 L1630.10 964.22 L1637.44 988.20 L1644.79 988.20 L1652.13 988.20 L1659.48 988.20 L1666.82 988.20 L1674.17 988.20 L1681.51 988.20 L1688.86 988.20 L1696.20 988.20 L1703.55 899.33 L1710.89 945.24 L1718.24 980.72 L1725.58 964.22 L1732.93 986.43 L1740.27 988.20 L1747.62 985.25 L1754.97 987.32 L1762.31 988.20 L1769.66 976.41 L1777.00 858.08 L1784.35 834.16 L1791.69 988.20 L1799.04 988.20 L1806.38 752.07 L1813.73 869.63" stroke="#f9a71d" stroke-width="2" fill="none" stroke-linejoin="round"/><g fill="#f9a71d"><circle cx="1431.77" cy="975.29" r="3.4"/><circle cx="1439.12" cy="985.49" r="3.4"/><circle cx="1446.46" cy="988.08" r="3.4"/><circle cx="1453.81" cy="976.41" r="3.4"/><circle cx="1461.15" cy="987.85" r="3.4"/><circle cx="1468.50" cy="976.41" r="3.4"/><circle cx="1475.84" cy="987.49" r="3.4"/><circle cx="1483.19" cy="976.41" r="3.4"/><circle cx="1490.53" cy="988.08" r="3.4"/><circle cx="1497.88" cy="752.48" r="3.4"/><circle cx="1505.23" cy="929.27" r="3.4"/><circle cx="1512.57" cy="988.20" r="3.4"/><circle cx="1519.92" cy="952.55" r="3.4"/><circle cx="1527.26" cy="976.41" r="3.4"/><circle cx="1534.61" cy="976.71" r="3.4"/><circle cx="1541.95" cy="929.27" r="3.4"/><circle cx="1549.30" cy="988.20" r="3.4"/><circle cx="1556.64" cy="988.20" r="3.4"/><circle cx="1563.99" cy="986.43" r="3.4"/><circle cx="1571.33" cy="905.05" r="3.4"/><circle cx="1578.68" cy="988.20" r="3.4"/><circle cx="1586.02" cy="964.22" r="3.4"/><circle cx="1593.37" cy="976.41" r="3.4"/><circle cx="1600.71" cy="988.20" r="3.4"/><circle cx="1608.06" cy="987.61" r="3.4"/><circle cx="1615.40" cy="964.22" r="3.4"/><circle cx="1622.75" cy="988.20" r="3.4"/><circle cx="1630.10" cy="964.22" r="3.4"/><circle cx="1637.44" cy="988.20" r="3.4"/><circle cx="1644.79" cy="988.20" r="3.4"/><circle cx="1652.13" cy="988.20" r="3.4"/><circle cx="1659.48" cy="988.20" r="3.4"/><circle cx="1666.82" cy="988.20" r="3.4"/><circle cx="1674.17" cy="988.20" r="3.4"/><circle cx="1681.51" cy="988.20" r="3.4"/><circle cx="1688.86" cy="988.20" r="3.4"/><circle cx="1696.20" cy="988.20" r="3.4"/><circle cx="1703.55" cy="899.33" r="3.4"/><circle cx="1710.89" cy="945.24" r="3.4"/><circle cx="1718.24" cy="980.72" r="3.4"/><circle cx="1725.58" cy="964.22" r="3.4"/><circle cx="1732.93" cy="986.43" r="3.4"/><circle cx="1740.27" cy="988.20" r="3.4"/><circle cx="1747.62" cy="985.25" r="3.4"/><circle cx="1754.97" cy="987.32" r="3.4"/><circle cx="1762.31" cy="988.20" r="3.4"/><circle cx="1769.66" cy="976.41" r="3.4"/><circle cx="1777.00" cy="858.08" r="3.4"/><circle cx="1784.35" cy="834.16" r="3.4"/><circle cx="1791.69" cy="988.20" r="3.4"/><circle cx="1799.04" cy="988.20" r="3.4"/><circle cx="1806.38" cy="752.07" r="3.4"/><circle cx="1813.73" cy="869.63" r="3.4"/></g><text x="1436.17" y="1009.60" font-size="12" fill="#444" text-anchor="end" textLength="24.9" lengthAdjust="spacingAndGlyphs" transform="rotate(-25 1436.17 1009.60)">NaT</text><text x="1465.55" y="1009.60" font-size="12" fill="#444" text-anchor="end" textLength="67.5" lengthAdjust="spacingAndGlyphs" transform="rotate(-25 1465.55 1009.60)">2022-10-21</text><text x="1494.93" y="1009.60" font-size="12" fill="#444" text-anchor="end" textLength="67.5" lengthAdjust="spacingAndGlyphs" transform="rotate(-25 1494.93 1009.60)">2022-03-09</text><text x="1524.32" y="1009.60" font-size="12" fill="#444" text-anchor="end" textLength="67.5" lengthAdjust="spacingAndGlyphs" transform="rotate(-25 1524.32 1009.60)">2022-02-24</text><text x="1553.70" y="1009.60" font-size="12" fill="#444" text-anchor="end" textLength="67.5" lengthAdjust="spacingAndGlyphs" transform="rotate(-25 1553.70 1009.60)">2022-02-10</text><text x="1583.08" y="1009.60" font-size="12" fill="#444" text-anchor="end" textLength="67.5" lengthAdjust="spacingAndGlyphs" transform="rotate(-25 1583.08 1009.60)">2022-01-10</text><text x="1612.46" y="1009.60" font-size="12" fill="#444" text-anchor="end" textLength="66.5" lengthAdjust="spacingAndGlyphs" transform="rotate(-25 1612.46 1009.60)">2021-11-15</text><text x="1641.84" y="1009.60" font-size="12" fill="#444" text-anchor="end" textLength="67.5" lengthAdjust="spacingAndGlyphs" transform="rotate(-25 1641.84 1009.60)">2021-05-28</text><text x="1671.22" y="1009.60" font-size="12" fill="#444" text-anchor="end" textLength="67.5" lengthAdjust="spacingAndGlyphs" transform="rotate(-25 1671.22 1009.60)">2021-04-22</text><text x="1700.60" y="1009.60" font-size="12" fill="#444" text-anchor="end" textLength="67.5" lengthAdjust="spacingAndGlyphs" transform="rotate(-25 1700.60 1009.60)">2021-04-01</text><text x="1729.98" y="1009.60" font-size="12" fill="#444" text-anchor="end" textLength="67.5" lengthAdjust="spacingAndGlyphs" transform="rotate(-25 1729.98 1009.60)">2020-03-26</text><text x="1759.37" y="1009.60" font-size="12" fill="#444" text-anchor="end" textLength="67.5" lengthAdjust="spacingAndGlyphs" transform="rotate(-25 1759.37 1009.60)">2020-03-17</text><text x="1788.75" y="1009.60" font-size="12" fill="#444" text-anchor="end" textLength="67.5" lengthAdjust="spacingAndGlyphs" transform="rotate(-25 1788.75 1009.60)">2019-04-17</text><text x="1818.13" y="1009.60" font-size="12" fill="#444" text-anchor="end" textLength="67.5" lengthAdjust="spacingAndGlyphs" transform="rotate(-25 1818.13 1009.60)">2019-04-05</text><rect x="1528.2" y="1042" width="15" height="14.5" fill="#f2622e"/><text x="1551.00" y="1054.30" font-size="12" fill="#666" text-anchor="start" textLength="47.5" lengthAdjust="spacingAndGlyphs">Total Pnl</text><circle cx="1622.8" cy="1049.6" r="7.3" fill="#f9a71d"/><text x="1640.00" y="1054.30" font-size="12" fill="#666" text-anchor="start" textLength="76.6" lengthAdjust="spacingAndGlyphs">Total Quantity</text><line x1="332.6" y1="1189.8" x2="332.6" y2="1572.6" stroke="#a8a8a8" stroke-width="1"/><text x="332.60" y="1594.80" font-size="12" fill="#444" text-anchor="middle" textLength="33.1" lengthAdjust="spacingAndGlyphs">-1000</text><line x1="472" y1="1189.8" x2="472" y2="1572.6" stroke="#e0e6f1" stroke-width="1"/><text x="472.00" y="1594.80" font-size="12" fill="#444" text-anchor="middle" textLength="7.2" lengthAdjust="spacingAndGlyphs">0</text><line x1="612" y1="1189.8" x2="612" y2="1572.6" stroke="#e0e6f1" stroke-width="1"/><text x="612.00" y="1594.80" font-size="12" fill="#444" text-anchor="middle" textLength="28.8" lengthAdjust="spacingAndGlyphs">1000</text><line x1="751.5" y1="1189.8" x2="751.5" y2="1572.6" stroke="#e0e6f1" stroke-width="1"/><text x="751.50" y="1594.80" font-size="12" fill="#444" text-anchor="middle" textLength="28.8" lengthAdjust="spacingAndGlyphs">2000</text><line x1="891.2" y1="1189.8" x2="891.2" y2="1572.6" stroke="#e0e6f1" stroke-width="1"/><text x="891.20" y="1594.80" font-size="12" fill="#444" text-anchor="middle" textLength="28.8" lengthAdjust="spacingAndGlyphs">3000</text><text x="322.30" y="1198.34" font-size="12" fill="#444" text-anchor="end" transform="rotate(-25 322.30 1198.34)">10</text><text x="322.30" y="1212.01" font-size="12" fill="#444" text-anchor="end" transform="rotate(-25 322.30 1212.01)">1</text><text x="322.30" y="1225.68" font-size="12" fill="#444" text-anchor="end" transform="rotate(-25 322.30 1225.68)">30</text><text x="322.30" y="1239.35" font-size="12" fill="#444" text-anchor="end" transform="rotate(-25 322.30 1239.35)">13</text><text x="322.30" y="1253.02" font-size="12" fill="#444" text-anchor="end" transform="rotate(-25 322.30 1253.02)">25</text><text x="322.30" y="1266.69" font-size="12" fill="#444" text-anchor="end" transform="rotate(-25 322.30 1266.69)">15</text><text x="322.30" y="1280.36" font-size="12" fill="#444" text-anchor="end" transform="rotate(-25 322.30 1280.36)">8</text><text x="322.30" y="1294.04" font-size="12" fill="#444" text-anchor="end" transform="rotate(-25 322.30 1294.04)">19</text><text x="322.30" y="1307.71" font-size="12" fill="#444" text-anchor="end" transform="rotate(-25 322.30 1307.71)">16</text><text x="322.30" y="1321.38" font-size="12" fill="#444" text-anchor="end" transform="rotate(-25 322.30 1321.38)">9</text><text x="322.30" y="1335.05" font-size="12" fill="#444" text-anchor="end" transform="rotate(-25 322.30 1335.05)">2</text><text x="322.30" y="1348.72" font-size="12" fill="#444" text-anchor="end" transform="rotate(-25 322.30 1348.72)">29</text><text x="322.30" y="1362.39" font-size="12" fill="#444" text-anchor="end" transform="rotate(-25 322.30 1362.39)">26</text><text x="322.30" y="1376.06" font-size="12" fill="#444" text-anchor="end" transform="rotate(-25 322.30 1376.06)">23</text><text x="322.30" y="1389.74" font-size="12" fill="#444" text-anchor="end" transform="rotate(-25 322.30 1389.74)">3</text><text x="322.30" y="1403.41" font-size="12" fill="#444" text-anchor="end" transform="rotate(-25 322.30 1403.41)">18</text><text x="322.30" y="1417.08" font-size="12" fill="#444" text-anchor="end" transform="rotate(-25 322.30 1417.08)">31</text><text x="322.30" y="1430.75" font-size="12" fill="#444" text-anchor="end" transform="rotate(-25 322.30 1430.75)">5</text><text x="322.30" y="1444.42" font-size="12" fill="#444" text-anchor="end" transform="rotate(-25 322.30 1444.42)">11</text><text x="322.30" y="1458.09" font-size="12" fill="#444" text-anchor="end" transform="rotate(-25 322.30 1458.09)">28</text><text x="322.30" y="1471.76" font-size="12" fill="#444" text-anchor="end" transform="rotate(-25 322.30 1471.76)">4</text><text x="322.30" y="1485.44" font-size="12" fill="#444" text-anchor="end" transform="rotate(-25 322.30 1485.44)">12</text><text x="322.30" y="1499.11" font-size="12" fill="#444" text-anchor="end" transform="rotate(-25 322.30 1499.11)">20</text><text x="322.30" y="1512.78" font-size="12" fill="#444" text-anchor="end" transform="rotate(-25 322.30 1512.78)">17</text><text x="322.30" y="1526.45" font-size="12" fill="#444" text-anchor="end" transform="rotate(-25 322.30 1526.45)">21</text><text x="322.30" y="1540.12" font-size="12" fill="#444" text-anchor="end" transform="rotate(-25 322.30 1540.12)">6</text><text x="322.30" y="1553.79" font-size="12" fill="#444" text-anchor="end" transform="rotate(-25 322.30 1553.79)">14</text><text x="322.30" y="1567.46" font-size="12" fill="#444" text-anchor="end" transform="rotate(-25 322.30 1567.46)">22</text><g fill="#f2622e"><rect x="375.78" y="1192.54" width="96.22" height="9"/><rect x="412.09" y="1206.21" width="59.91" height="9"/><rect x="413.21" y="1219.88" width="58.79" height="9"/><rect x="428.99" y="1233.55" width="43.01" height="9"/><rect x="444.07" y="1247.22" width="27.93" height="9"/><rect x="444.07" y="1260.89" width="27.93" height="9"/><rect x="452.31" y="1274.56" width="19.69" height="9"/><rect x="472.00" y="1288.24" width="2.23" height="9"/><rect x="472.00" y="1301.91" width="4.75" height="9"/><rect x="472.00" y="1315.58" width="7.96" height="9"/><rect x="472.00" y="1329.25" width="10.75" height="9"/><rect x="472.00" y="1342.92" width="11.87" height="9"/><rect x="472.00" y="1356.59" width="12.99" height="9"/><rect x="472.00" y="1370.26" width="27.93" height="9"/><rect x="472.00" y="1383.94" width="27.93" height="9"/><rect x="472.00" y="1397.61" width="35.89" height="9"/><rect x="472.00" y="1411.28" width="39.94" height="9"/><rect x="472.00" y="1424.95" width="39.94" height="9"/><rect x="472.00" y="1438.62" width="40.92" height="9"/><rect x="472.00" y="1452.29" width="42.03" height="9"/><rect x="472.00" y="1465.96" width="45.94" height="9"/><rect x="472.00" y="1479.64" width="57.95" height="9"/><rect x="472.00" y="1493.31" width="57.95" height="9"/><rect x="472.00" y="1506.98" width="85.88" height="9"/><rect x="472.00" y="1520.65" width="98.87" height="9"/><rect x="472.00" y="1534.32" width="108.93" height="9"/><rect x="472.00" y="1547.99" width="155.57" height="9"/><rect x="472.00" y="1561.66" width="297.45" height="9"/></g><rect x="559" y="1597.7" width="14.7" height="13.7" fill="#f2622e"/><text x="581.60" y="1609.20" font-size="12" fill="#666" text-anchor="start" textLength="54.0" lengthAdjust="spacingAndGlyphs">Gross Pnl</text>
</svg>
</body></html>
